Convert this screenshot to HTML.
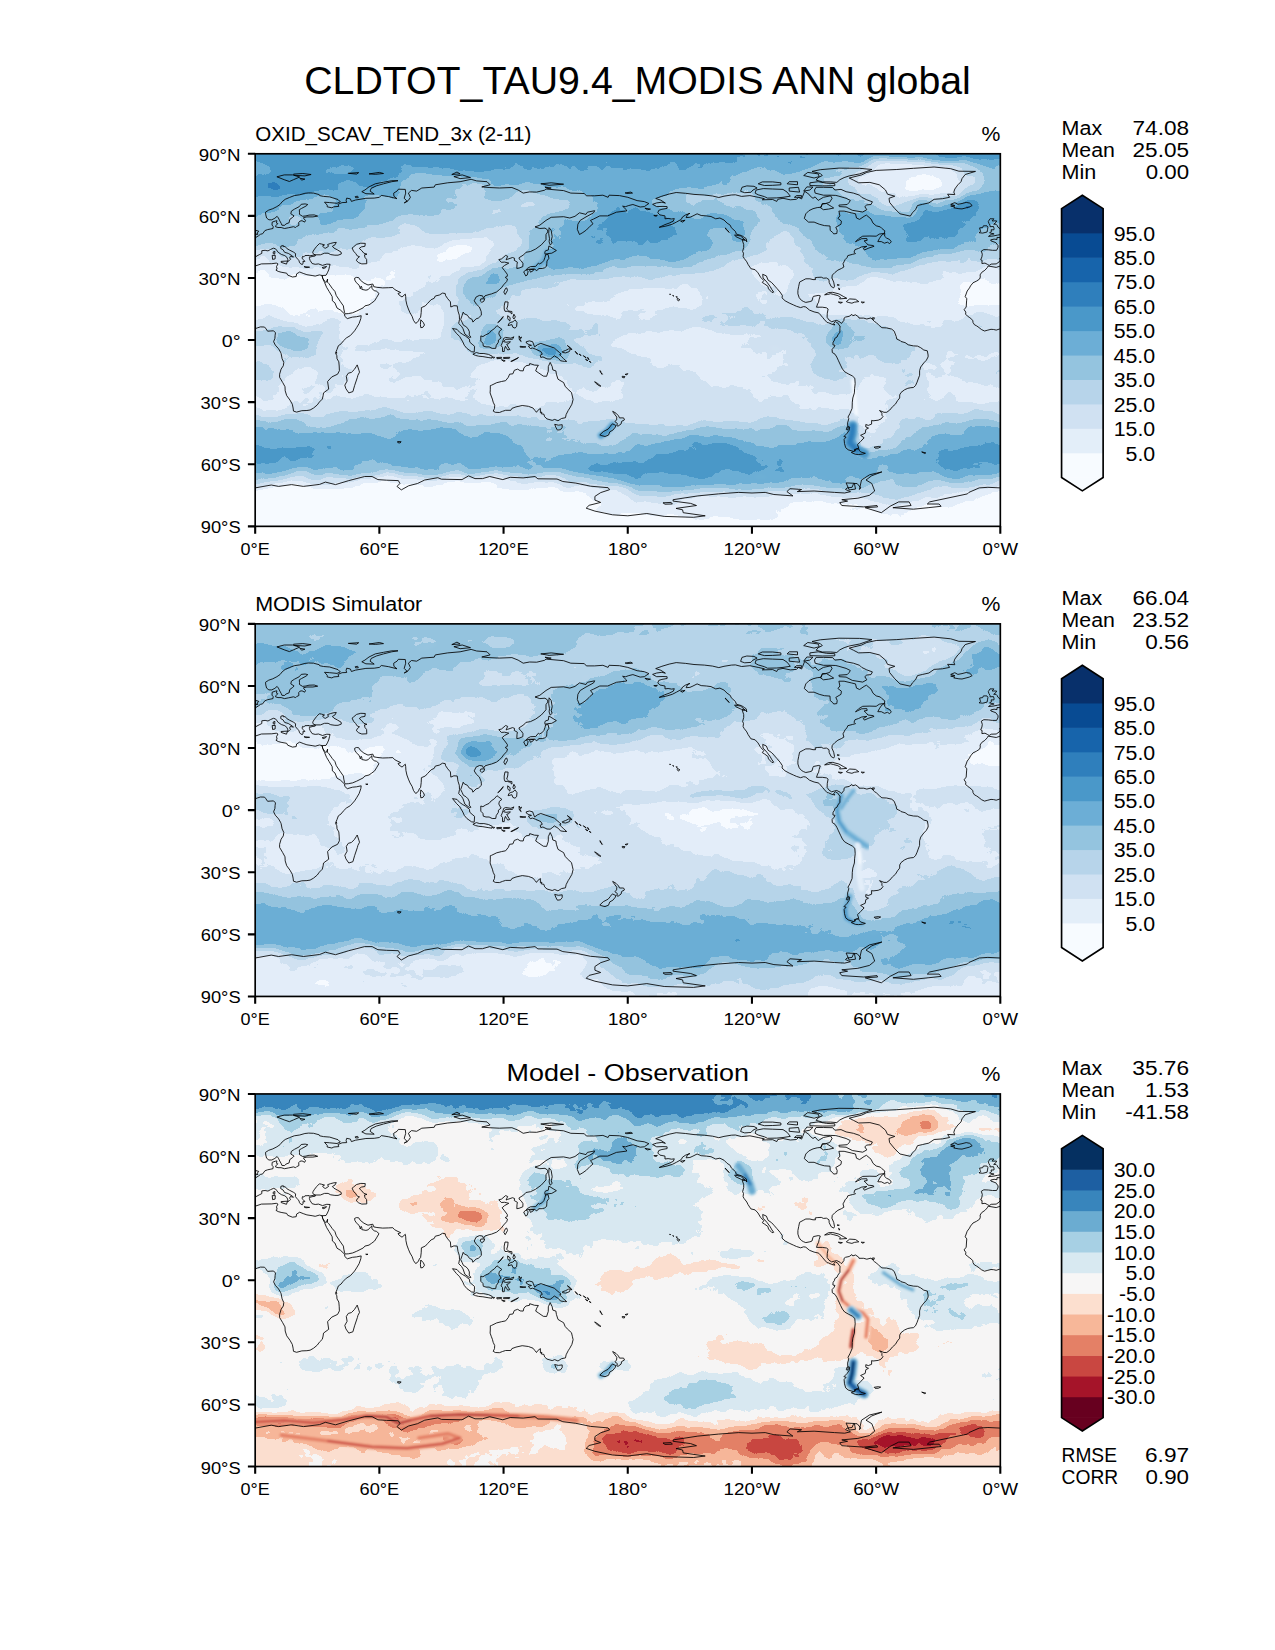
<!DOCTYPE html>
<html><head><meta charset="utf-8"><title>CLDTOT_TAU9.4_MODIS ANN global</title>
<style>html,body{margin:0;padding:0;background:#fff}svg{display:block}text{font-family:"Liberation Sans",sans-serif;fill:#000}</style></head>
<body>
<svg width="1275" height="1650" viewBox="0 0 1275 1650">
<rect width="1275" height="1650" fill="#fff"/>
<defs><path id="coast" d="M-12.2 112.2L-4.1 113.6L0.0 112.2L6.2 110.1L16.6 109.9L21.1 109.3L22.8 110.1L21.3 112.8L21.9 115.3L20.7 116.3L23.0 117.6L25.9 118.4L31.5 119.4L32.5 121.3L37.3 123.2L41.0 122.7L41.4 120.1L44.5 118.2L48.0 119.6L51.7 120.9L56.9 121.7L60.0 122.3L64.2 121.1L66.9 121.7L67.5 124.4L69.3 128.5L71.4 133.5L73.9 137.6L77.0 142.8L77.2 147.0L79.7 149.0L81.8 154.2L85.3 156.3L89.4 160.2L89.6 162.5L92.1 164.8L97.3 163.3L101.4 162.9L106.0 161.9L105.6 164.8L103.9 169.7L101.4 173.9L99.4 177.0L95.2 181.7L91.1 184.2L88.0 187.3L85.9 190.0L83.2 191.9L81.8 195.6L80.3 199.3L81.6 201.8L81.8 204.9L83.6 208.0L84.0 212.2L84.2 216.9L82.4 220.4L76.6 223.1L72.4 227.7L73.5 235.3L68.3 239.1L67.9 242.0L67.1 245.3L64.2 248.2L62.1 251.1L58.4 254.2L54.9 256.2L51.7 256.7L46.6 256.9L41.4 258.3L38.3 257.3L37.9 254.2L37.1 250.4L34.8 246.3L31.5 241.8L30.0 237.0L29.8 232.9L27.5 228.7L24.4 223.5L24.4 220.4L25.9 215.3L28.1 212.0L28.6 208.6L26.9 204.9L25.9 199.7L25.3 198.3L23.4 195.0L20.1 191.3L18.4 187.9L19.7 184.6L19.9 181.5L20.3 179.0L18.4 177.0L14.9 177.2L12.4 177.4L10.3 174.3L9.3 173.2L5.2 173.1L2.1 174.1L-1.0 175.3L-4.1 176.3L-6.6 175.7L-9.3 175.5L-12.4 176.3L-15.7 177.2L-18.6 175.9L-22.4 173.0L-23.8 172.0L-25.9 171.0L-27.3 168.7L-27.5 166.6L-30.4 163.9L-31.3 163.5L-33.1 161.9L-34.8 160.6L-34.6 158.3L-36.2 155.9L-34.2 153.2L-33.7 147.0L-33.5 144.9L-35.2 142.8L-33.1 137.2L-30.8 134.1L-29.8 132.1L-27.3 129.0L-23.8 127.3L-20.7 125.2L-20.1 123.2L-20.3 121.1L-18.6 118.6L-15.5 116.5L-13.0 113.8L-12.2 112.2M732.9 112.2L741.0 113.6L745.1 112.2L751.3 110.1L761.7 109.9L766.3 109.3L767.9 110.1L766.5 112.8L767.1 115.3L765.8 116.3L768.1 117.6L771.0 118.4L776.6 119.4L777.6 121.3L782.4 123.2L786.1 122.7L786.5 120.1L789.6 118.2L793.2 119.6L796.9 120.9L802.1 121.7L805.2 122.3L809.3 121.1L812.0 121.7L812.6 124.4L814.5 128.5L816.5 133.5L819.0 137.6L822.1 142.8L822.3 147.0L824.8 149.0L826.9 154.2L830.4 156.3L834.6 160.2L834.8 162.5L837.2 164.8L842.4 163.3L846.6 162.9L851.1 161.9L850.7 164.8L849.0 169.7L846.6 173.9L844.5 177.0L840.4 181.7L836.2 184.2L833.1 187.3L831.0 190.0L828.3 191.9L826.9 195.6L825.4 199.3L826.7 201.8L826.9 204.9L828.8 208.0L829.2 212.2L829.4 216.9L827.5 220.4L821.7 223.1L817.6 227.7L818.6 235.3L813.4 239.1L813.0 242.0L812.2 245.3L809.3 248.2L807.2 251.1L803.5 254.2L800.0 256.2L796.9 256.7L791.7 256.9L786.5 258.3L783.4 257.3L783.0 254.2L782.2 250.4L779.9 246.3L776.6 241.8L775.2 237.0L774.9 232.9L772.7 228.7L769.6 223.5L769.6 220.4L771.0 215.3L773.3 212.0L773.7 208.6L772.0 204.9L771.0 199.7L770.4 198.3L768.5 195.0L765.2 191.3L763.6 187.9L764.8 184.6L765.0 181.5L765.4 179.0L763.6 177.0L760.0 177.2L757.6 177.4L755.5 174.3L754.5 173.2L750.3 173.1L747.2 174.1L744.1 175.3L741.0 176.3L738.5 175.7L735.8 175.5L732.7 176.3L729.4 177.2L726.5 175.9L722.8 173.0L721.3 172.0L719.3 171.0L717.8 168.7L717.6 166.6L714.7 163.9L713.9 163.5L712.0 161.9L710.4 160.6L710.6 158.3L708.9 155.9L711.0 153.2L711.4 147.0L711.6 144.9L710.0 142.8L712.0 137.2L714.3 134.1L715.3 132.1L717.8 129.0L721.3 127.3L724.4 125.2L725.1 123.2L724.9 121.1L726.5 118.6L729.6 116.5L732.1 113.8L732.9 112.2M102.0 211.1L103.9 216.9L104.3 218.4L102.7 221.5L102.2 223.5L99.4 231.8L97.7 237.8L93.6 239.1L90.7 234.9L89.6 231.4L91.9 227.3L91.1 222.5L93.1 219.4L96.2 218.6L99.1 215.7L101.0 212.8L102.0 211.1M67.5 124.4L66.9 121.7L70.8 121.5L72.2 119.0L73.5 116.1L74.3 112.8L74.9 110.5L71.6 110.3L67.3 111.6L63.3 110.1L60.0 110.5L56.9 109.7L54.9 106.6L54.2 104.5L54.2 103.5L56.9 102.7L60.0 102.2L60.2 101.0L58.4 100.4L57.5 98.9L58.0 97.3L59.4 95.2L61.5 92.5L64.2 89.8L66.2 90.2L69.3 91.1L67.3 92.3L69.1 94.0L70.4 94.4L73.3 92.5L72.4 90.7L75.5 89.6L78.7 88.8L81.1 88.6L79.7 91.1L77.2 92.5L78.7 94.2L82.4 96.2L85.9 98.3L86.1 100.2L82.8 101.4L79.7 101.4L75.5 100.8L72.9 99.4L69.3 99.4L65.2 101.0L60.2 101.0M60.2 101.0L58.0 101.4L53.8 102.2L53.8 101.6L49.7 101.8L48.6 103.1L47.4 102.5L46.8 104.5L48.2 105.8L49.7 107.6L47.6 107.8L48.0 109.1L47.2 110.7L45.5 110.1L44.1 108.3L43.9 107.0L42.8 105.6L41.4 104.1L40.2 102.5L40.4 99.8L38.3 98.3L34.2 96.2L31.5 94.6L30.0 92.7L28.1 92.9L28.1 91.7L25.7 92.3L25.5 94.6L27.9 96.0L29.4 98.5L33.1 99.6L37.3 102.2L38.3 103.3L35.2 102.5L34.4 104.1L35.4 105.6L34.2 106.6L32.5 107.8L32.7 106.0L31.7 103.5L29.6 101.8L26.1 100.6L23.0 98.5L21.3 96.2L20.3 95.0L18.2 94.4L15.5 95.6L12.8 97.1L9.9 96.5L6.6 96.9L6.6 99.6L4.6 100.6L1.0 102.5L-0.6 104.7L0.2 106.2L-1.4 108.3L-4.1 110.1L-9.1 110.3L-11.2 111.6L-13.0 110.5L-15.3 109.3L-18.4 109.7L-18.2 106.6L-19.7 106.0L-18.4 103.1L-18.0 100.4L-19.0 97.3L-16.6 95.8L-12.0 96.0L-7.9 96.5L-3.7 96.5L-2.5 94.0L-2.3 91.9L-4.6 88.8L-9.3 87.1L-9.7 86.1L-6.2 85.3L-3.3 85.7L-3.3 83.6L0.4 83.8L3.3 82.0L5.2 80.5L7.5 79.9L9.7 76.8L12.4 75.8L14.9 75.3L17.8 74.7L18.0 72.7L16.8 71.2L17.0 68.3L20.5 67.1L21.7 66.9L21.3 69.3L22.6 69.8L20.7 71.8L20.3 72.9L22.8 73.7L25.9 73.7L29.4 74.7L33.5 73.9L38.3 72.9L40.4 73.7L41.4 72.7L43.7 71.6L43.5 68.7L44.7 67.3L46.8 66.9L49.5 68.3L50.3 66.6L48.6 64.8L48.4 63.8L51.7 63.1L57.7 63.1L62.5 62.3L59.0 61.1L53.8 61.3L50.7 62.1L47.4 62.5L44.3 60.6L44.3 58.4L44.1 55.9L46.4 54.6L50.9 52.2L52.6 50.7L49.9 50.1L46.0 50.5L44.1 52.8L39.3 55.3L36.2 57.3L35.6 60.0L38.9 62.1L37.5 63.5L34.6 65.6L33.9 68.9L30.6 70.2L29.4 71.6L26.7 71.4L26.1 69.8L24.6 67.1L23.2 64.2L21.9 62.5L19.7 64.4L16.6 66.0L13.7 66.0L11.4 64.2L10.6 61.1L10.3 58.4L13.5 56.3L17.6 54.9L21.7 52.8L24.8 50.7L26.9 48.0L30.0 45.5L34.2 43.7L39.1 41.8L44.5 41.0L49.7 39.5L53.4 39.1L58.4 39.3L64.0 40.8L64.4 41.8L68.3 42.6L74.5 43.1L82.8 45.7L85.1 48.0L81.8 49.5L74.5 48.8L69.3 48.4L72.0 51.3L72.0 53.0L76.6 54.0L78.7 53.0L83.6 52.6L82.8 50.5L86.9 48.8L91.5 48.6L90.9 46.6L91.5 44.3L95.2 45.1L96.2 47.6L100.4 46.2L110.7 44.5L119.0 44.3L124.2 43.5L126.1 41.6L133.5 42.8L141.8 44.9L138.7 42.4L138.5 39.3L141.8 37.3L143.2 35.4L150.1 35.6L150.5 39.3L149.0 44.5L152.1 47.6L149.0 49.1L153.2 46.6L155.2 43.5L153.2 39.3L156.3 36.6L161.4 37.3L166.6 34.2L179.0 33.3L180.1 31.0L192.5 29.0L204.9 27.9L215.9 25.5L221.5 27.1L231.8 27.9L234.9 31.0L226.6 33.1L233.9 33.7L244.2 34.2L256.7 33.7L262.9 36.2L268.0 39.3L274.3 38.1L281.5 38.3L289.4 36.4L290.8 35.2L308.4 36.8L315.6 39.3L329.1 39.7L331.2 42.0L339.5 42.0L347.7 41.4L352.9 43.5L353.9 41.4L364.3 41.8L372.6 43.5L381.9 46.8L389.1 47.8L393.7 49.7L389.1 52.8L385.0 53.2L377.7 50.7L373.6 51.7L370.5 52.8L367.4 52.4L371.1 55.9L371.5 57.1L361.2 58.4L352.5 62.1L344.6 62.1L338.4 65.2L335.3 66.6L337.8 70.0L334.9 72.4L331.2 76.2L327.7 78.7L324.3 80.7L322.1 75.5L322.7 70.4L325.0 66.6L330.8 63.1L338.4 59.0L339.5 56.9L332.2 58.4L330.8 60.6L324.3 59.0L319.8 62.5L314.6 64.2L308.4 62.9L296.0 63.5L290.8 66.6L284.6 71.4L279.8 73.1L284.6 74.7L289.8 74.3L292.5 76.2L292.5 78.2L290.8 80.7L290.8 85.9L286.1 91.1L280.5 95.2L275.3 97.7L270.7 98.5L268.5 101.0L263.9 103.9L263.9 105.1L266.2 107.2L267.8 109.7L267.6 112.8L263.9 114.3L261.6 114.7L261.8 110.7L262.2 108.3L259.1 106.6L259.4 104.5L257.3 103.7L252.5 105.4L250.9 106.0L252.5 102.5L250.4 101.6L246.3 105.1L243.6 105.8L246.1 108.5L249.4 108.3L253.6 109.3L249.4 111.6L246.9 113.8L249.4 116.9L252.1 120.5L252.1 122.5L250.0 123.6L252.3 125.2L251.5 127.7L248.4 131.0L246.3 133.9L244.2 135.8L241.5 138.1L236.4 140.1L233.9 140.7L229.8 142.0L228.3 144.3L227.3 142.0L224.2 141.6L220.9 143.2L219.0 147.0L221.1 150.3L224.2 153.2L226.0 157.7L226.2 161.4L223.1 164.3L220.9 165.0L217.7 168.3L216.9 165.6L214.2 164.3L212.2 161.4L209.1 160.0L208.0 158.3L207.0 161.4L205.5 165.6L207.0 168.7L208.2 171.4L210.7 172.8L212.8 174.9L214.2 178.0L214.0 181.1L215.7 183.4L214.2 183.6L209.7 180.3L207.8 174.9L206.4 172.6L203.5 169.7L204.3 165.6L204.1 161.4L202.8 157.3L202.0 152.1L198.7 151.9L195.6 153.2L195.2 148.0L192.5 144.9L190.4 141.8L190.0 139.7L187.3 139.3L184.2 141.2L180.1 142.2L179.0 144.5L175.9 145.9L172.4 149.6L170.1 152.1L166.2 153.8L166.0 158.8L165.4 163.5L164.1 165.0L163.3 167.0L161.7 168.9L160.4 169.5L158.3 166.6L156.9 162.5L154.8 159.0L153.2 155.2L151.7 151.1L150.7 146.5L150.5 142.8L150.1 140.3L146.8 143.2L143.9 141.2L142.8 139.7L145.5 138.7L141.8 137.0L139.3 135.6L137.6 133.7L133.5 133.9L127.5 134.1L121.7 133.5L118.6 132.9L117.6 130.2L112.8 131.2L108.7 129.2L105.1 126.3L103.5 123.8L101.2 123.6L99.4 124.4L99.6 126.3L101.0 128.7L103.9 131.4L104.7 133.5L105.1 135.0L106.0 132.3L106.8 134.1L106.6 135.6L110.7 136.4L113.0 135.8L115.9 132.5L116.7 131.8L116.7 134.7L119.0 136.8L121.3 137.4L123.8 139.7L121.3 143.9L119.4 147.0L116.5 149.2L113.8 151.1L109.7 152.1L108.0 154.0L101.4 157.3L97.3 159.0L93.1 159.8L90.0 160.0L89.4 158.8L88.6 155.2L88.2 152.1L85.3 148.0L81.1 141.8L79.7 137.6L77.0 134.5L73.7 129.8L72.2 128.3L72.4 125.2L71.2 128.3L70.8 128.7L69.3 127.3L67.5 124.4M805.4 101.0L803.1 101.4L799.0 102.2L799.0 101.6L794.8 101.8L793.8 103.1L792.5 102.5L791.9 104.5L793.4 105.8L794.8 107.6L792.7 107.8L793.2 109.1L792.3 110.7L790.7 110.1L789.2 108.3L789.0 107.0L788.0 105.6L786.5 104.1L785.3 102.5L785.5 99.8L783.4 98.3L779.3 96.2L776.6 94.6L775.2 92.7L773.3 92.9L773.3 91.7L770.8 92.3L770.6 94.6L773.1 96.0L774.5 98.5L778.3 99.6L782.4 102.2L783.4 103.3L780.3 102.5L779.5 104.1L780.5 105.6L779.3 106.6L777.6 107.8L777.8 106.0L776.8 103.5L774.7 101.8L771.2 100.6L768.1 98.5L766.5 96.2L765.4 95.0L763.4 94.4L760.7 95.6L758.0 97.1L755.1 96.5L751.8 96.9L751.8 99.6L749.7 100.6L746.2 102.5L744.5 104.7L745.3 106.2L743.7 108.3L741.0 110.1L736.0 110.3L734.0 111.6L732.1 110.5L729.8 109.3L726.7 109.7L726.9 106.6L725.5 106.0L726.7 103.1L727.1 100.4L726.1 97.3L728.6 95.8L733.1 96.0L737.3 96.5L741.4 96.5L742.7 94.0L742.9 91.9L740.6 88.8L735.8 87.1L735.4 86.1L738.9 85.3L741.8 85.7L741.8 83.6L745.6 83.8L748.5 82.0L750.3 80.5L752.6 79.9L754.9 76.8L757.6 75.8L760.0 75.3L762.9 74.7L763.1 72.7L761.9 71.2L762.1 68.3L765.6 67.1L766.9 66.9L766.5 69.3L767.7 69.8L765.8 71.8L765.4 72.9L767.9 73.7L771.0 73.7L774.5 74.7L778.7 73.9L783.4 72.9L785.5 73.7L786.5 72.7L788.8 71.6L788.6 68.7L789.8 67.3L791.9 66.9L794.6 68.3L795.4 66.6L793.8 64.8L793.6 63.8L796.9 63.1L802.9 63.1L807.6 62.3L804.1 61.1L799.0 61.3L795.9 62.1L792.5 62.5L789.4 60.6L789.4 58.4L789.2 55.9L791.5 54.6L796.1 52.2L797.7 50.7L795.0 50.1L791.1 50.5L789.2 52.8L784.5 55.3L781.4 57.3L780.7 60.0L784.1 62.1L782.6 63.5L779.7 65.6L779.1 68.9L775.8 70.2L774.5 71.6L771.8 71.4L771.2 69.8L769.8 67.1L768.3 64.2L767.1 62.5L764.8 64.4L761.7 66.0L758.8 66.0L756.5 64.2L755.7 61.1L755.5 58.4L758.6 56.3L762.7 54.9L766.9 52.8L770.0 50.7L772.0 48.0L775.2 45.5L779.3 43.7L784.3 41.8L789.6 41.0L794.8 39.5L798.5 39.1L803.5 39.3L809.1 40.8L809.5 41.8L813.4 42.6L819.7 43.1L827.9 45.7L830.2 48.0L826.9 49.5L819.7 48.8L814.5 48.4L817.2 51.3L817.2 53.0L821.7 54.0L823.8 53.0L828.8 52.6L827.9 50.5L832.1 48.8L836.6 48.6L836.0 46.6L836.6 44.3L840.4 45.1L841.4 47.6L845.5 46.2L855.9 44.5L864.2 44.3L869.3 43.5L871.2 41.6L878.6 42.8L886.9 44.9L883.8 42.4L883.6 39.3L886.9 37.3L888.4 35.4L895.2 35.6L895.6 39.3L894.2 44.5L897.3 47.6L894.2 49.1L898.3 46.6L900.4 43.5L898.3 39.3L901.4 36.6L906.6 37.3L911.8 34.2L924.2 33.3L925.2 31.0L937.6 29.0L950.1 27.9L961.0 25.5L966.6 27.1L977.0 27.9L980.1 31.0L971.8 33.1L979.0 33.7L989.4 34.2L1001.8 33.7L1008.0 36.2L1013.2 39.3L1019.4 38.1L1026.6 38.3L1034.5 36.4L1036.0 35.2L1053.5 36.8L1060.8 39.3L1074.2 39.7L1076.3 42.0L1084.6 42.0L1092.9 41.4L1098.0 43.5L1099.1 41.4L1109.4 41.8L1117.7 43.5L1127.0 46.8L1134.3 47.8L1138.8 49.7L1134.3 52.8L1130.1 53.2L1122.9 50.7L1118.7 51.7L1115.6 52.8L1112.5 52.4L1116.3 55.9L1116.7 57.1L1106.3 58.4L1097.6 62.1L1089.8 62.1L1083.6 65.2L1080.5 66.6L1082.9 70.0L1080.0 72.4L1076.3 76.2L1072.8 78.7L1069.5 80.7L1067.2 75.5L1067.8 70.4L1070.1 66.6L1075.9 63.1L1083.6 59.0L1084.6 56.9L1077.3 58.4L1075.9 60.6L1069.5 59.0L1064.9 62.5L1059.8 64.2L1053.5 62.9L1041.1 63.5L1036.0 66.6L1029.7 71.4L1025.0 73.1L1029.7 74.7L1034.9 74.3L1037.6 76.2L1037.6 78.2L1036.0 80.7L1036.0 85.9L1031.2 91.1L1025.6 95.2L1020.4 97.7L1015.9 98.5L1013.6 101.0L1009.0 103.9L1009.0 105.1L1011.3 107.2L1013.0 109.7L1012.8 112.8L1009.0 114.3L1006.8 114.7L1007.0 110.7L1007.4 108.3L1004.3 106.6L1004.5 104.5L1002.4 103.7L997.7 105.4L996.0 106.0L997.7 102.5L995.6 101.6L991.5 105.1L988.8 105.8L991.2 108.5L994.6 108.3L998.7 109.3L994.6 111.6L992.1 113.8L994.6 116.9L997.2 120.5L997.2 122.5L995.2 123.6L997.5 125.2L996.6 127.7L993.5 131.0L991.5 133.9L989.4 135.8L986.7 138.1L981.5 140.1L979.0 140.7L974.9 142.0L973.4 144.3L972.4 142.0L969.3 141.6L966.0 143.2L964.1 147.0L966.2 150.3L969.3 153.2L971.2 157.7L971.4 161.4L968.3 164.3L966.0 165.0L962.9 168.3L962.1 165.6L959.4 164.3L957.3 161.4L954.2 160.0L953.2 158.3L952.1 161.4L950.7 165.6L952.1 168.7L953.4 171.4L955.8 172.8L957.9 174.9L959.4 178.0L959.2 181.1L960.8 183.4L959.4 183.6L954.8 180.3L953.0 174.9L951.5 172.6L948.6 169.7L949.4 165.6L949.2 161.4L948.0 157.3L947.2 152.1L943.8 151.9L940.7 153.2L940.3 148.0L937.6 144.9L935.6 141.8L935.2 139.7L932.5 139.3L929.4 141.2L925.2 142.2L924.2 144.5L921.1 145.9L917.6 149.6L915.3 152.1L911.3 153.8L911.1 158.8L910.5 163.5L909.3 165.0L908.4 167.0L906.8 168.9L905.6 169.5L903.5 166.6L902.0 162.5L900.0 159.0L898.3 155.2L896.9 151.1L895.8 146.5L895.6 142.8L895.2 140.3L891.9 143.2L889.0 141.2L888.0 139.7L890.6 138.7L886.9 137.0L884.4 135.6L882.8 133.7L878.6 133.9L872.6 134.1L866.8 133.5L863.7 132.9L862.7 130.2L857.9 131.2L853.8 129.2L850.3 126.3L848.6 123.8L846.4 123.6L844.5 124.4L844.7 126.3L846.1 128.7L849.0 131.4L849.9 133.5L850.3 135.0L851.1 132.3L851.9 134.1L851.7 135.6L855.9 136.4L858.2 135.8L861.1 132.5L861.9 131.8L861.9 134.7L864.2 136.8L866.4 137.4L868.9 139.7L866.4 143.9L864.6 147.0L861.7 149.2L859.0 151.1L854.8 152.1L853.2 154.0L846.6 157.3L842.4 159.0L838.3 159.8L835.2 160.0L834.6 158.8L833.7 155.2L833.3 152.1L830.4 148.0L826.3 141.8L824.8 137.6L822.1 134.5L818.8 129.8L817.4 128.3L817.6 125.2L816.3 128.3L815.9 128.7L814.5 127.3L812.6 124.4M-11.8 82.6L-7.2 82.2L-2.7 81.3L2.9 80.3L1.7 79.7L3.5 77.4L0.6 76.6L0.0 75.3L-2.5 73.3L-3.3 71.4L-4.3 70.4L-6.6 70.4L-4.1 68.3L-3.7 67.1L-8.3 67.1L-6.4 65.0L-10.3 65.0L-12.0 67.7L-11.4 69.8L-10.3 71.4L-10.3 72.9L-6.8 72.7L-6.2 74.9L-6.4 76.0L-9.3 76.0L-8.7 77.6L-10.8 78.9L-7.2 79.9L-6.2 80.1L-8.9 80.5L-11.8 82.6M733.3 82.6L737.9 82.2L742.4 81.3L748.0 80.3L746.8 79.7L748.7 77.4L745.8 76.6L745.1 75.3L742.7 73.3L741.8 71.4L740.8 70.4L738.5 70.4L741.0 68.3L741.4 67.1L736.9 67.1L738.7 65.0L734.8 65.0L733.1 67.7L733.8 69.8L734.8 71.4L734.8 72.9L738.3 72.7L738.9 74.9L738.7 76.0L735.8 76.0L736.4 77.6L734.4 78.9L737.9 79.9L738.9 80.1L736.2 80.5L733.3 82.6M732.3 76.0L732.7 73.5L731.7 72.0L728.2 72.0L727.5 73.7L724.4 74.1L724.9 76.2L725.5 77.6L723.8 78.9L727.5 79.3L731.9 78.2L732.3 76.0M698.6 54.0L703.7 54.9L706.8 55.1L714.1 53.2L717.0 51.7L714.5 49.3L711.0 48.6L706.8 49.7L702.7 50.5L699.6 48.8L695.5 50.5L699.6 51.7L695.5 52.2L699.6 53.2L698.6 54.0M25.9 107.6L32.3 107.2L31.3 110.3L25.9 108.5L25.9 107.6M17.0 101.6L20.1 101.6L19.9 105.1L17.4 105.6L17.0 101.6M18.0 98.1L19.7 97.5L19.5 100.4L18.0 99.8L18.0 98.1M48.8 112.8L54.4 113.4L50.7 113.8L48.8 112.8M66.9 113.8L71.4 112.6L70.2 114.0L67.9 114.7L66.9 113.8M103.5 108.9L106.6 110.1L111.6 109.9L111.4 105.6L109.7 103.5L109.3 101.0L111.8 100.4L108.7 99.4L106.6 96.9L104.1 94.6L106.2 93.1L109.7 92.5L110.1 89.6L105.6 89.4L101.4 90.5L98.3 93.1L96.9 94.2L98.3 97.3L100.4 99.6L102.2 102.2L104.3 102.9L102.0 104.9L101.2 106.8L103.5 108.9M292.9 100.6L293.7 104.5L291.8 107.2L291.6 109.9L291.4 112.4L289.4 114.0L287.1 114.7L283.6 114.7L283.4 115.3L281.1 116.9L279.8 115.3L275.3 115.3L271.1 115.9L272.2 114.5L275.3 112.8L280.5 112.6L283.2 109.3L284.2 110.1L286.7 108.9L288.7 106.6L289.8 103.5L290.4 101.0L292.9 100.6M289.8 100.4L292.3 99.8L296.6 99.4L301.2 96.7L298.7 95.2L293.7 92.1L293.1 96.2L290.4 96.9L289.6 98.3L289.8 100.4M270.9 116.1L273.0 117.6L272.0 121.3L270.5 122.1L269.5 120.1L268.5 118.0L270.9 116.1M274.3 115.9L278.6 115.5L278.0 116.9L275.3 118.4L274.3 115.9M293.9 73.9L296.0 76.6L297.0 82.8L296.0 86.9L297.0 89.4L295.0 91.1L293.9 88.0L294.3 84.9L293.5 79.7L293.9 73.9M251.5 134.1L252.3 136.6L250.0 140.7L248.6 138.3L250.4 134.5L251.5 134.1M225.6 145.1L229.5 144.9L228.7 147.4L226.6 148.6L225.0 147.0L225.6 145.1M165.6 166.0L168.1 168.7L169.3 171.2L167.7 173.5L165.6 173.9L165.2 170.8L165.6 166.0M249.8 148.0L252.9 148.2L252.5 152.1L251.5 155.2L253.6 157.3L256.7 157.7L256.7 160.2L254.6 158.3L252.1 157.5L249.8 157.5L249.0 155.2L249.0 152.1L249.8 148.0M259.8 166.0L261.8 168.7L261.4 172.8L259.8 174.3L257.7 173.5L256.7 170.8L252.9 171.8L253.6 169.7L255.6 168.5L257.7 168.1L259.8 166.0M248.0 162.7L245.3 166.0L242.6 168.9L244.9 167.0L247.6 163.7L248.0 162.7M258.7 160.4L260.2 163.1L258.7 165.2L257.7 163.5L258.7 160.4M252.5 161.9L255.0 163.9L254.6 167.2L253.3 166.0L252.5 164.6L252.5 161.9M225.6 182.1L227.7 182.8L230.4 181.1L233.9 179.5L236.0 177.0L239.1 174.9L241.8 171.8L243.6 173.2L246.7 175.5L244.2 177.4L243.6 180.1L245.9 184.2L243.2 186.3L243.2 188.4L241.1 191.5L240.5 194.6L237.0 194.6L233.9 193.1L230.8 193.1L228.1 192.3L227.7 189.4L225.6 187.3L225.6 184.2L225.6 182.1M197.3 174.7L201.8 175.5L204.3 178.4L207.6 180.7L210.1 182.1L214.2 185.3L214.6 188.4L216.9 190.4L219.4 192.5L219.0 198.3L216.3 197.9L211.7 194.6L209.1 191.5L207.6 188.1L204.5 182.8L201.2 179.5L197.3 174.7M217.7 200.4L221.1 198.7L224.6 199.7L228.7 199.7L233.3 200.6L237.0 202.4L236.8 204.3L232.9 203.7L227.7 202.8L223.5 202.4L220.2 201.6L217.7 200.4M241.5 203.7L246.3 203.5L246.3 204.5L241.8 204.9L241.5 203.7M248.2 203.7L254.6 203.5L254.2 204.5L248.4 204.7L248.2 203.7M255.6 207.6L263.3 203.7L261.8 204.9L256.7 207.6L255.6 207.6M246.3 205.9L250.0 207.0L248.4 207.6L246.3 205.9M237.2 203.3L239.5 203.5L238.4 204.5L237.2 203.3M248.4 184.6L250.4 183.6L255.6 184.4L258.7 183.0L257.3 185.5L254.6 185.5L250.4 185.5L248.4 187.9L250.9 188.4L255.2 187.9L253.6 189.8L251.5 190.4L252.9 193.1L254.6 195.6L252.5 196.2L251.5 194.6L250.2 192.5L249.2 195.6L249.0 197.7L247.3 197.7L247.3 193.5L245.9 191.9L247.1 189.0L248.0 186.3L248.4 184.6M263.9 182.1L264.9 184.2L266.4 183.2L264.9 185.7L266.0 187.7L264.3 186.3L263.9 184.2L263.9 182.1M264.9 192.5L270.7 193.1L268.0 193.5L264.9 193.3L264.9 192.5M271.1 187.9L274.3 187.1L277.4 187.9L279.4 193.1L282.5 190.8L285.6 189.6L291.8 191.7L299.1 194.2L301.8 196.6L304.3 198.7L305.9 200.2L304.3 200.8L306.3 202.8L308.4 204.9L311.5 207.6L309.4 207.6L305.3 207.0L303.2 204.5L299.1 202.0L297.0 203.9L295.0 205.3L291.8 205.1L287.7 203.1L285.6 203.7L285.0 201.4L287.1 200.4L285.6 197.7L280.5 195.4L277.4 194.2L275.1 194.8L273.2 192.3L276.3 191.5L273.8 190.8L271.1 189.2L271.1 187.9M307.0 197.9L310.5 196.6L313.6 195.0L315.2 195.2L314.2 197.7L310.5 199.1L307.4 198.7L307.0 197.9M312.1 191.7L315.6 194.2L316.7 196.0L315.2 194.6L312.1 191.7M320.0 197.5L322.7 200.4L321.4 199.9L320.0 197.5M323.9 200.2L326.0 201.6L325.0 201.4L323.9 200.2M330.3 205.5L332.8 206.8L331.8 206.6L330.3 205.5M332.4 203.5L333.9 205.9L333.0 205.3L332.4 203.5M328.1 201.8L331.0 203.9L329.7 203.5L328.1 201.8M333.9 207.4L335.9 208.6L334.9 208.2L333.9 207.4M344.8 216.7L346.1 218.6L345.2 218.6L344.8 216.7M346.1 219.2L347.3 220.4L346.5 220.4L346.1 219.2M339.5 227.9L342.6 229.8L345.7 232.4L343.6 231.8L340.5 229.3L339.5 227.9M367.0 222.5L369.7 222.7L369.1 224.0L367.2 223.7L367.0 222.5M369.9 220.6L372.6 219.8L371.7 221.1L369.9 220.6M235.1 231.8L236.4 231.4L241.5 228.9L246.3 227.7L250.4 226.9L253.1 223.5L254.4 220.4L257.7 220.0L259.1 216.5L262.5 215.3L264.9 216.9L268.0 217.1L268.7 214.2L270.7 212.0L274.3 211.3L274.5 209.7L279.4 211.3L283.2 211.5L281.5 214.2L280.5 217.1L283.6 219.2L288.1 222.3L291.4 222.5L293.1 217.3L293.1 212.8L295.0 208.6L297.0 212.8L297.6 216.1L300.7 217.1L301.2 220.4L302.8 225.4L305.9 227.3L308.4 228.7L309.9 232.4L312.1 234.9L316.3 238.7L317.1 242.2L317.9 245.7L316.7 250.4L314.6 254.2L313.0 256.7L310.9 260.8L310.3 263.9L306.3 264.7L302.8 267.0L299.5 265.6L297.0 266.6L291.8 265.1L289.4 262.9L288.7 260.4L286.1 260.0L286.7 258.3L285.2 258.9L285.2 254.6L282.5 256.7L281.3 258.5L279.8 256.7L277.8 254.2L273.2 252.5L267.0 251.7L260.8 253.1L256.7 254.6L255.6 256.5L250.4 256.5L247.3 257.5L244.2 258.7L240.1 258.5L238.0 257.3L239.3 254.6L239.5 251.5L238.0 248.4L237.2 245.3L236.0 242.2L234.9 239.1L235.1 236.0L235.1 231.8M299.5 270.5L303.2 271.4L307.0 270.9L307.0 273.6L305.3 275.9L302.2 276.3L300.7 273.6L299.5 270.5M357.5 257.5L360.8 259.4L363.3 262.0L364.3 264.1L368.4 264.1L369.3 266.0L366.4 267.6L365.9 270.1L362.8 272.4L361.6 271.8L362.2 269.7L359.7 267.8L361.4 266.0L361.6 263.3L358.1 258.7L357.5 257.5M357.5 270.1L360.6 271.6L360.2 273.2L357.7 276.3L354.6 278.0L353.3 281.3L349.8 282.7L346.7 281.9L344.6 281.1L348.1 277.8L352.9 275.3L355.0 272.8L356.4 270.7L357.5 270.1M422.2 144.5L424.7 145.9L423.1 147.2L422.0 145.5L422.2 144.5M420.8 142.8L422.2 143.2L421.4 143.6L420.8 142.8M417.5 141.6L418.7 142.2L417.9 142.2L417.5 141.6M414.4 140.3L415.4 140.5L414.8 141.0L414.4 140.3M397.4 50.5L401.5 49.1L406.7 48.4L410.2 49.3L405.7 46.4L400.5 44.7L406.7 42.4L414.0 40.2L421.0 38.7L430.5 39.5L438.8 40.6L449.2 41.2L457.4 42.2L463.6 43.7L468.8 42.4L476.1 41.2L480.2 41.0L486.4 42.6L494.7 41.8L503.0 43.5L509.2 44.9L507.1 46.0L517.5 45.7L521.6 47.6L522.6 45.5L527.8 44.5L535.1 46.0L541.3 45.5L543.3 43.5L546.4 45.1L547.5 42.4L549.5 37.5L553.7 40.4L555.1 42.4L557.8 44.5L559.9 43.1L563.0 46.6L568.2 43.5L575.4 42.0L576.9 44.5L574.4 48.6L570.2 49.7L567.1 49.7L566.1 53.4L562.0 53.8L557.8 54.9L553.7 56.9L550.6 60.0L549.1 64.6L553.3 68.3L558.9 68.3L564.0 70.4L569.2 71.8L574.8 72.2L575.0 76.6L577.5 78.7L578.5 80.1L581.6 79.7L582.0 76.6L580.6 73.5L585.8 70.4L586.2 67.3L582.7 64.6L584.7 62.1L583.7 57.3L588.9 57.3L596.1 59.0L600.3 60.0L601.3 64.2L604.4 65.6L608.9 62.5L611.2 61.3L615.8 65.2L617.8 69.3L621.0 72.0L625.1 73.1L626.5 74.5L629.6 77.0L629.2 79.5L624.1 80.3L621.0 82.4L614.7 82.2L607.5 82.4L603.4 84.9L600.3 88.0L602.3 86.9L606.5 84.9L611.6 84.7L612.0 86.5L608.9 87.1L611.0 89.0L612.7 91.1L617.8 91.7L618.9 92.5L613.7 94.2L609.2 96.2L608.1 94.6L611.6 92.5L606.5 93.1L603.4 94.6L599.8 95.8L598.8 98.3L600.3 99.8L597.1 100.6L592.6 101.8L591.8 103.9L589.9 105.8L588.9 108.0L587.8 109.9L588.7 113.2L586.2 114.7L582.7 116.3L579.6 118.8L577.1 121.3L576.7 124.2L578.5 128.3L579.3 132.5L578.5 134.1L576.0 132.7L574.0 128.7L573.8 125.8L571.3 124.2L568.2 124.4L566.1 123.4L562.0 123.6L559.9 124.0L560.3 125.8L557.8 125.8L554.7 125.0L550.6 125.0L548.1 126.3L544.4 128.3L543.5 132.5L542.7 136.6L542.7 140.1L544.0 143.9L546.2 146.5L548.5 147.8L550.6 148.6L554.7 147.8L556.8 147.0L557.6 143.9L558.2 142.6L563.0 141.6L565.1 142.0L564.0 145.3L563.4 148.4L562.4 150.1L561.3 153.4L567.1 153.4L571.3 154.0L572.9 155.2L572.1 159.4L571.9 163.5L573.8 166.2L576.4 167.9L579.6 167.0L581.6 166.6L584.9 168.3L586.2 169.7L588.7 166.6L588.9 164.3L590.3 163.3L594.0 162.5L596.7 160.6L597.6 161.9L600.3 161.0L603.4 163.1L603.8 164.3L608.5 164.3L611.6 165.2L615.8 164.1L617.2 165.6L619.3 167.7L621.4 169.1L624.1 171.8L626.7 173.9L631.3 174.1L636.5 175.3L639.0 177.4L641.0 182.6L641.6 185.3L645.2 186.9L645.8 187.7L649.9 188.8L653.0 191.0L658.2 192.1L662.3 192.3L665.5 193.9L668.6 196.2L672.1 197.0L672.9 201.2L672.9 203.1L671.2 206.4L668.6 209.1L665.5 213.2L664.4 216.9L664.4 221.5L663.0 225.2L661.9 228.3L660.3 231.8L658.2 233.7L655.7 233.9L652.6 234.5L649.3 236.0L645.8 238.7L644.5 241.1L644.5 244.2L642.3 246.9L640.2 250.4L637.3 252.9L634.6 256.2L631.5 258.5L628.8 258.5L624.3 256.7L626.7 259.4L626.7 261.4L627.8 262.7L625.9 265.1L623.0 266.4L617.8 267.0L616.4 266.6L616.4 270.3L613.1 271.6L610.6 270.7L610.6 273.2L613.3 274.3L610.6 275.7L610.0 279.4L605.4 281.5L608.9 284.0L605.4 287.7L602.3 290.8L603.6 294.5L601.3 295.0L598.2 297.6L593.0 296.0L590.5 293.9L589.3 289.8L588.9 285.6L590.9 283.2L588.7 282.7L592.0 279.4L594.0 276.3L594.5 273.2L592.6 272.6L592.4 269.1L593.6 264.9L592.8 263.3L594.7 259.8L596.9 254.6L597.1 248.4L597.6 244.2L599.2 239.1L599.4 234.9L600.0 229.8L599.6 224.4L597.1 222.1L593.0 220.0L589.5 218.0L587.2 215.1L585.3 211.3L583.3 207.0L581.6 203.3L579.8 200.4L577.1 198.7L576.9 195.6L578.9 193.3L579.8 191.5L577.7 191.0L577.9 188.4L579.3 186.3L579.6 184.6L581.8 183.2L582.7 181.1L584.7 178.4L584.7 174.9L584.9 172.2L583.9 171.4L582.7 169.3L580.2 167.9L578.5 169.5L579.6 171.2L576.4 170.3L573.3 168.9L571.9 168.7L569.4 166.0L567.5 163.7L564.0 159.6L563.0 159.0L558.9 158.1L554.3 156.3L550.6 153.2L548.5 152.8L545.4 153.8L541.3 152.5L538.2 151.1L534.0 149.2L529.9 147.0L526.8 144.1L527.2 141.8L524.9 138.3L521.6 134.5L518.7 131.2L516.4 128.7L512.9 126.3L511.2 122.1L507.5 120.5L507.9 124.2L511.7 128.3L514.8 132.5L516.8 136.0L518.5 138.3L516.8 138.7L513.3 135.0L512.7 132.5L509.2 130.0L507.1 128.7L508.6 126.7L505.5 123.6L502.8 119.0L499.9 115.9L495.7 114.9L492.8 110.5L491.6 108.0L488.9 104.5L487.9 102.7L488.3 99.4L487.4 97.7L488.5 93.6L488.5 90.7L487.0 86.1L490.6 86.5L491.6 88.0L491.0 84.9L489.5 83.8L486.4 81.8L481.2 80.3L480.2 77.6L476.1 73.9L475.0 71.4L471.9 69.3L468.8 66.2L464.7 64.2L460.5 65.0L455.8 62.7L451.2 62.1L446.0 61.7L441.9 60.0L437.8 62.1L434.7 63.5L430.9 63.8L432.6 60.4L434.7 59.6L430.5 61.1L427.4 63.1L426.0 65.6L421.2 68.3L417.1 70.4L411.9 72.0L407.8 72.9L404.0 73.5L409.8 70.8L414.0 69.3L418.1 67.3L419.1 64.8L416.5 65.2L412.9 64.6L409.8 65.0L409.8 62.1L404.7 61.1L402.6 59.0L403.6 56.5L406.7 55.5L411.9 54.6L411.9 52.8L407.8 52.6L401.5 52.8L397.4 50.5M611.6 55.9L607.5 58.2L597.1 56.5L590.9 53.2L584.1 52.8L583.7 51.3L592.0 50.7L594.0 48.6L595.1 46.6L590.9 44.5L583.7 42.4L580.6 41.6L575.4 41.4L568.2 41.4L559.9 39.3L559.3 36.2L560.9 33.5L568.2 33.5L577.5 33.7L579.6 36.2L585.8 35.6L590.9 37.9L598.2 39.3L604.4 41.4L606.5 43.5L611.6 46.0L617.2 48.0L615.8 50.7L611.6 51.1L609.6 52.8L611.6 55.9M527.8 43.5L535.1 42.4L531.9 38.3L527.8 35.6L517.5 35.2L508.1 34.8L500.9 36.2L499.9 39.3L503.0 41.0L509.2 42.8L512.3 44.3L521.6 44.1L527.8 43.5M485.4 37.5L489.5 38.9L495.7 38.5L497.8 36.2L501.9 34.2L498.8 32.5L491.6 32.1L486.8 33.5L485.4 37.5M581.6 28.6L584.7 25.9L588.9 23.8L594.0 22.1L604.4 20.1L611.6 17.6L616.8 15.7L604.4 14.5L583.7 14.3L565.1 15.9L556.8 17.6L565.1 19.7L567.1 21.7L563.0 23.8L560.9 26.3L567.1 28.1L575.4 28.1L581.6 28.6M579.6 29.8L579.6 31.9L567.1 32.1L554.7 31.7L554.7 29.0L563.0 27.9L571.3 29.4L579.6 29.8M558.9 24.2L548.5 21.7L552.6 18.6L563.0 20.1L564.0 22.8L558.9 24.2M525.7 31.0L517.5 31.5L509.2 31.7L503.0 30.0L507.1 28.1L517.5 28.1L525.7 29.0L525.7 31.0M548.5 37.3L551.6 33.1L557.8 33.3L554.7 36.2L548.5 37.3M544.4 38.3L534.0 37.3L534.0 34.2L543.3 33.5L544.4 38.3M542.3 31.0L531.9 30.0L534.0 27.9L542.3 27.9L542.3 31.0M539.2 43.5L546.4 43.5L546.4 41.8L541.3 41.8L539.2 43.5M565.1 53.8L567.1 50.3L571.3 49.7L576.4 52.8L578.5 54.2L573.3 55.3L568.2 55.9L565.1 53.8M622.6 87.8L624.1 84.9L626.5 81.3L629.6 79.5L629.4 82.4L631.3 84.2L634.4 85.7L636.1 88.0L634.4 89.8L632.3 88.4L629.2 89.4L626.1 87.8L622.6 87.8M479.4 81.1L485.4 82.2L489.9 86.1L486.4 85.5L480.6 82.8L479.4 81.1M469.9 74.1L472.5 76.6L474.0 78.7L470.9 75.5L469.9 74.1M425.4 67.3L429.9 66.4L427.4 68.3L425.4 67.3M389.7 54.4L395.3 55.3L392.2 55.9L389.7 54.4M398.6 61.7L402.2 61.5L400.9 62.5L398.6 61.7M569.4 141.0L573.3 138.7L577.5 138.5L583.7 140.1L588.5 142.8L591.6 144.5L584.3 145.1L585.3 143.6L582.7 141.8L578.5 140.7L575.4 139.9L572.3 140.7L569.4 141.0M591.1 147.8L594.5 145.1L600.3 145.5L603.6 147.8L599.2 148.4L596.7 149.4L593.0 148.6L591.1 147.8M583.1 148.2L587.2 148.6L585.3 149.4L583.1 148.2M606.0 148.2L609.2 148.4L607.5 149.2L606.0 148.2M583.3 134.3L584.1 136.2L584.5 135.0L583.3 134.3M581.8 131.0L584.1 131.2L582.9 131.4L581.8 131.0M617.0 164.1L619.1 163.9L618.9 165.4L617.0 165.4L617.0 164.1M655.1 62.3L644.8 60.0L639.6 54.9L634.4 48.6L633.8 44.5L639.6 42.4L632.3 40.4L630.3 36.2L624.1 31.0L614.7 28.6L603.4 29.0L598.2 26.3L594.0 24.2L606.5 21.1L611.6 18.6L621.0 16.6L641.6 15.7L658.2 14.5L678.9 13.2L695.5 14.9L703.7 17.4L720.3 17.6L710.0 20.7L706.8 24.8L705.8 27.9L702.7 31.0L699.6 35.2L698.6 38.3L699.6 40.8L692.4 40.4L694.4 43.5L687.2 44.9L678.9 45.5L673.7 49.1L667.5 50.5L662.3 51.7L660.3 55.9L657.2 59.0L655.1 62.3M21.7 23.0L29.0 21.1L37.3 21.1L44.5 23.2L38.3 25.9L34.2 27.7L29.0 25.9L23.8 23.8L21.7 23.0M38.3 20.3L47.6 19.7L55.9 20.7L49.7 22.1L39.3 21.5L38.3 20.3M44.5 24.4L49.7 25.3L46.6 26.3L44.5 24.4M106.6 37.9L110.7 39.9L119.0 40.2L114.9 37.3L115.9 34.6L121.1 32.1L128.3 30.0L136.6 27.9L142.8 26.9L136.6 26.9L128.3 28.4L120.1 30.0L113.8 33.1L109.7 36.2L106.6 37.9M93.1 19.5L103.5 18.8L101.4 20.3L93.1 19.5M113.8 20.1L124.2 18.6L128.3 19.7L120.1 20.5L113.8 20.1M198.7 22.8L207.0 21.1L215.3 23.8L204.9 24.8L198.7 22.8M196.6 20.7L201.8 18.2L204.9 20.1L196.6 20.7M285.6 30.0L296.0 29.0L308.4 30.4L293.9 31.5L285.6 30.0M289.8 33.3L296.0 34.2L292.9 34.8L289.8 33.3M369.9 39.1L375.7 38.3L377.3 39.3L371.5 39.7L369.9 39.1M100.0 42.8L102.5 42.4L103.1 43.9L100.4 43.9L100.0 42.8M603.6 295.2L604.0 296.4L605.4 298.1L610.2 299.5L607.5 300.3L603.4 300.7L600.3 300.5L596.1 298.7L598.2 297.8L600.3 297.0L599.2 295.6L601.7 295.2L603.6 295.2M618.9 293.3L623.0 292.7L625.5 293.1L623.0 294.3L619.9 294.3L618.9 293.3M592.0 273.0L593.0 273.2L592.8 276.1L591.1 275.7L592.0 273.0M142.4 287.7L145.9 287.9L144.9 289.2L142.6 288.9L142.4 287.7M666.5 298.1L670.6 299.1L669.6 299.7L666.5 298.1M110.5 160.2L112.8 160.2L111.8 160.8L110.5 160.2M81.1 198.3L81.8 199.3L81.3 199.5L81.1 198.3M-745.1 334.1L-729.0 331.2L-721.8 332.6L-708.7 330.8L-696.9 332.6L-680.8 330.6L-675.0 328.3L-664.8 330.8L-651.6 326.8L-635.6 322.7L-628.2 322.7L-622.4 325.8L-613.7 326.4L-601.9 326.8L-600.5 329.7L-603.4 332.6L-599.0 336.1L-591.8 332.0L-582.9 329.7L-575.6 326.2L-562.6 323.9L-558.9 325.4L-538.4 325.8L-531.7 322.1L-525.3 324.8L-517.9 324.8L-510.6 322.7L-497.6 325.8L-490.1 323.5L-477.1 324.1L-465.3 322.7L-462.4 325.0L-443.4 325.2L-437.6 327.7L-424.5 329.3L-409.8 332.4L-392.2 333.9L-390.8 335.9L-399.7 338.8L-405.5 342.6L-405.5 346.3L-399.7 348.6L-411.3 351.5L-414.2 354.4L-405.5 357.3L-387.9 361.0L-372.6 362.0L-353.5 359.7L-336.1 362.6L-306.7 363.5L-295.2 362.0L-317.1 358.9L-317.7 356.0L-324.3 354.6L-303.9 351.7L-309.6 349.6L-327.2 347.3L-327.2 345.9L-302.4 342.1L-281.9 340.1L-261.6 338.6L-248.4 339.2L-235.1 338.6L-226.4 340.7L-207.4 342.1L-213.4 337.8L-210.3 334.9L-198.7 335.7L-203.1 337.8L-186.3 337.2L-165.8 338.6L-155.7 339.2L-149.9 337.8L-154.8 335.7L-153.4 334.1L-148.2 333.5L-146.8 329.7L-143.2 329.7L-139.5 334.1L-141.0 335.7L-138.9 326.2L-130.8 321.0L-118.4 318.1L-128.5 321.9L-134.3 326.2L-128.5 329.7L-125.6 337.2L-130.8 341.5L-142.4 344.4L-158.5 345.9L-152.8 347.3L-160.6 348.8L-158.5 351.7L-136.6 353.1L-123.4 351.7L-122.7 353.1L-135.2 353.9L-119.0 358.9L-110.3 352.5L-101.6 348.1L-91.3 348.1L-89.2 351.7L-107.4 353.9L-86.9 355.4L-72.2 353.9L-59.2 352.5L-61.3 350.2L-73.1 350.2L-70.8 348.1L-32.9 340.1L-31.5 338.6L-21.1 334.1L-12.4 333.5L0.0 334.1M0.0 334.1L16.1 331.2L23.4 332.6L36.4 330.8L48.2 332.6L64.4 330.6L70.2 328.3L80.3 330.8L93.6 326.8L109.5 322.7L116.9 322.7L122.7 325.8L131.4 326.4L143.2 326.8L144.7 329.7L141.8 332.6L146.1 336.1L153.4 332.0L162.3 329.7L169.5 326.2L182.6 323.9L186.3 325.4L206.8 325.8L213.4 322.1L219.8 324.8L227.3 324.8L234.5 322.7L247.6 325.8L255.0 323.5L268.0 324.1L279.8 322.7L282.7 325.0L301.8 325.2L307.6 327.7L320.6 329.3L335.3 332.4L352.9 333.9L354.4 335.9L345.5 338.8L339.7 342.6L339.7 346.3L345.5 348.6L333.9 351.5L331.0 354.4L339.7 357.3L357.3 361.0L372.6 362.0L391.6 359.7L409.0 362.6L438.4 363.5L450.0 362.0L428.0 358.9L427.4 356.0L420.8 354.6L441.3 351.7L435.5 349.6L417.9 347.3L417.9 345.9L442.7 342.1L463.2 340.1L483.5 338.6L496.8 339.2L510.0 338.6L518.7 340.7L537.7 342.1L531.7 337.8L534.8 334.9L546.4 335.7L542.1 337.8L558.9 337.2L579.3 338.6L589.5 339.2L595.3 337.8L590.3 335.7L591.8 334.1L596.9 333.5L598.4 329.7L601.9 329.7L605.6 334.1L604.2 335.7L606.3 326.2L614.3 321.0L626.7 318.1L616.6 321.9L610.8 326.2L616.6 329.7L619.5 337.2L614.3 341.5L602.7 344.4L586.6 345.9L592.4 347.3L584.5 348.8L586.6 351.7L608.5 353.1L621.8 351.7L622.4 353.1L610.0 353.9L626.1 358.9L634.8 352.5L643.5 348.1L653.9 348.1L655.9 351.7L637.7 353.9L658.2 355.4L672.9 353.9L685.9 352.5L683.9 350.2L672.1 350.2L674.4 348.1L712.2 340.1L713.7 338.6L724.0 334.1L732.7 333.5L745.1 334.1M745.1 334.1L761.3 331.2L768.5 332.6L781.6 330.8L793.4 332.6L809.5 330.6L815.3 328.3L825.4 330.8L838.7 326.8L854.6 322.7L862.1 322.7L867.9 325.8L876.6 326.4L888.4 326.8L889.8 329.7L886.9 332.6L891.3 336.1L898.5 332.0L907.4 329.7L914.7 326.2L927.7 323.9L931.4 325.4L951.9 325.8L958.5 322.1L965.0 324.8L972.4 324.8L979.7 322.7L992.7 325.8L1000.1 323.5L1013.2 324.1L1025.0 322.7L1027.9 325.0L1046.9 325.2L1052.7 327.7L1065.8 329.3L1080.5 332.4L1098.0 333.9L1099.5 335.9L1090.6 338.8L1084.8 342.6L1084.8 346.3L1090.6 348.6L1079.0 351.5L1076.1 354.4L1084.8 357.3L1102.4 361.0L1117.7 362.0L1136.8 359.7L1154.1 362.6L1183.5 363.5L1195.1 362.0L1173.2 358.9L1172.6 356.0L1165.9 354.6L1186.4 351.7L1180.6 349.6L1163.0 347.3L1163.0 345.9L1187.9 342.1L1208.4 340.1L1228.7 338.6L1241.9 339.2L1255.1 338.6L1263.8 340.7L1282.9 342.1L1276.9 337.8L1280.0 334.9L1291.6 335.7L1287.2 337.8L1304.0 337.2L1324.5 338.6L1334.6 339.2L1340.4 337.8L1335.5 335.7L1336.9 334.1L1342.1 333.5L1343.5 329.7L1347.0 329.7L1350.8 334.1L1349.3 335.7L1351.4 326.2L1359.5 321.0L1371.9 318.1L1361.7 321.9L1355.9 326.2L1361.7 329.7L1364.6 337.2L1359.5 341.5L1347.9 344.4L1331.7 345.9L1337.5 347.3L1329.7 348.8L1331.7 351.7L1353.7 353.1L1366.9 351.7L1367.5 353.1L1355.1 353.9L1371.3 358.9L1380.0 352.5L1388.7 348.1L1399.0 348.1L1401.1 351.7L1382.9 353.9L1403.3 355.4L1418.0 353.9L1431.1 352.5L1429.0 350.2L1417.2 350.2L1419.5 348.1L1457.4 340.1L1458.8 338.6L1469.2 334.1L1477.9 333.5L1490.3 334.1M407.8 349.0L416.0 348.6L417.1 350.2L409.8 350.4L407.8 349.0M590.9 329.1L599.2 329.5L600.3 335.3L594.0 336.1L590.9 329.1"/><filter id="ovb" x="-5%" y="-5%" width="110%" height="110%"><feGaussianBlur stdDeviation="0.9"/></filter></defs>
<defs><clipPath id="c0"><rect x="0" y="0" width="745.1" height="372.6"/></clipPath><filter id="q0" filterUnits="userSpaceOnUse" x="-40" y="-40" width="825.1" height="452.6" color-interpolation-filters="sRGB"><feTurbulence type="fractalNoise" baseFrequency="0.035 0.05" numOctaves="3" seed="3" result="nz"/><feDisplacementMap in="SourceGraphic" in2="nz" scale="22" xChannelSelector="R" yChannelSelector="G" result="dp"/><feGaussianBlur in="dp" stdDeviation="6 3.5" result="bl"/><feTurbulence type="fractalNoise" baseFrequency="0.09 0.13" numOctaves="2" seed="11" result="n2"/><feColorMatrix in="n2" type="matrix" values="0 0 1 0 0  0 0 1 0 0  0 0 1 0 0  0 0 0 0 1" result="n3"/><feComposite in="bl" in2="n3" operator="arithmetic" k1="0" k2="1" k3="0.0500" k4="-0.0250"/><feComponentTransfer><feFuncR type="discrete" tableValues="0.9686 0.8902 0.8157 0.7176 0.5804 0.4235 0.2902 0.1843 0.0902 0.0314 0.0314"/><feFuncG type="discrete" tableValues="0.9843 0.9333 0.8824 0.8314 0.7686 0.6824 0.5961 0.4980 0.3922 0.2941 0.1882"/><feFuncB type="discrete" tableValues="1.0000 0.9765 0.9490 0.9176 0.8745 0.8392 0.7882 0.7373 0.6706 0.5765 0.4196"/></feComponentTransfer></filter></defs>
<g transform="translate(255.2 153.8)" clip-path="url(#c0)"><g filter="url(#q0)" >
<path fill="#0c0c0c" d="M641.6 20.5H683.2V31.2H641.6zM662.3 30.8H683.2V41.6H662.3zM186.3 92.9H207.2V103.7H186.3zM-40 124H124.4V134.7H-40zM-40 134.3H124.4V145.1H-40zM703.7 134.3H785.3V145.1H703.7zM-40 144.7H103.7V155.4H-40zM-40 331H310.7V341.7H-40zM-40 341.3H331.4V352.1H-40zM724.4 341.3H785.3V352.1H724.4zM-40 351.7H331.4V362.4H-40zM538.2 351.7H579.8V362.4H538.2zM662.3 351.7H785.3V362.4H662.3zM-40 362H785.3V412.8H-40z"/>
<path fill="#171717" d="M683 20.5H703.9V31.2H683zM641.6 30.8H662.5V41.6H641.6zM207 92.9H227.9V103.7H207zM-40 113.6H20.9V124.4H-40zM82.8 113.6H103.7V124.4H82.8zM124.2 113.6H145.1V124.4H124.2zM124.2 124H145.1V134.7H124.2zM703.7 124H785.3V134.7H703.7zM103.5 144.7H124.4V155.4H103.5zM703.7 144.7H785.3V155.4H703.7zM20.7 155H62.3V165.8H20.7zM82.8 155H103.7V165.8H82.8zM372.6 186.1H393.5V196.8H372.6zM103.5 320.6H145.1V331.4H103.5zM186.3 320.6H227.9V331.4H186.3zM310.5 331H331.4V341.7H310.5zM724.4 331H785.3V341.7H724.4zM331.2 341.3H352.1V352.1H331.2zM703.7 341.3H724.6V352.1H703.7zM331.2 351.7H372.8V362.4H331.2zM517.5 351.7H538.4V362.4H517.5zM579.6 351.7H662.5V362.4H579.6z"/>
<path fill="#232323" d="M621 10.1H703.9V20.9H621zM600.3 20.5H641.8V31.2H600.3zM683 30.8H703.9V41.6H683zM641.6 41.2H662.5V51.9H641.6zM144.9 92.9H186.5V103.7H144.9zM124.2 103.3H227.9V114H124.2zM20.7 113.6H83V124.4H20.7zM103.5 113.6H124.4V124.4H103.5zM144.9 113.6H165.8V124.4H144.9zM496.8 113.6H538.4V124.4H496.8zM724.4 113.6H785.3V124.4H724.4zM144.9 124H165.8V134.7H144.9zM517.5 124H538.4V134.7H517.5zM600.3 124H703.9V134.7H600.3zM124.2 134.3H145.1V145.1H124.2zM372.6 134.3H434.9V145.1H372.6zM579.6 134.3H703.9V145.1H579.6zM124.2 144.7H145.1V155.4H124.2zM331.2 144.7H434.9V155.4H331.2zM558.9 144.7H703.9V155.4H558.9zM-40 155H20.9V165.8H-40zM62.1 155H83V165.8H62.1zM103.5 155H145.1V165.8H103.5zM165.6 155H186.5V165.8H165.6zM331.2 155H352.1V165.8H331.2zM579.6 155H703.9V165.8H579.6zM82.8 165.4H186.5V176.1H82.8zM82.8 175.7H186.5V186.5H82.8zM372.6 175.7H497V186.5H372.6zM351.9 186.1H372.8V196.8H351.9zM393.3 186.1H476.3V196.8H393.3zM82.8 196.4H165.8V207.2H82.8zM393.3 196.4H497V207.2H393.3zM103.5 206.8H124.4V217.5H103.5zM227.7 206.8H269.3V217.5H227.7zM434.7 206.8H517.7V217.5H434.7zM41.4 217.1H62.3V227.9H41.4zM103.5 217.1H124.4V227.9H103.5zM227.7 217.1H290V227.9H227.7zM455.4 217.1H497V227.9H455.4zM20.7 227.5H41.6V238.2H20.7zM103.5 227.5H186.5V238.2H103.5zM227.7 227.5H310.7V238.2H227.7zM351.9 227.5H372.8V238.2H351.9zM496.8 227.5H517.7V238.2H496.8zM600.3 227.5H621.2V238.2H600.3zM662.3 227.5H703.9V238.2H662.3zM-40 237.8H41.6V248.6H-40zM82.8 237.8H103.7V248.6H82.8zM186.3 237.8H207.2V248.6H186.3zM227.7 237.8H310.7V248.6H227.7zM331.2 237.8H352.1V248.6H331.2zM538.2 237.8H621.2V248.6H538.2zM703.7 237.8H785.3V248.6H703.7zM579.6 248.2H621.2V258.9H579.6zM600.3 258.5H621.2V269.3H600.3zM144.9 320.6H186.5V331.4H144.9zM227.7 320.6H248.6V331.4H227.7zM331.2 331H352.1V341.7H331.2zM703.7 331H724.6V341.7H703.7zM351.9 341.3H372.8V352.1H351.9zM434.7 341.3H600.5V352.1H434.7zM683 341.3H703.9V352.1H683zM372.6 351.7H517.7V362.4H372.6z"/>
<path fill="#2e2e2e" d="M621 30.8H641.8V41.6H621zM186.3 82.6H248.6V93.3H186.3zM124.2 92.9H145.1V103.7H124.2zM227.7 92.9H248.6V103.7H227.7zM-40 103.3H20.9V114H-40zM496.8 103.3H538.4V114H496.8zM165.6 113.6H207.2V124.4H165.6zM683 113.6H724.6V124.4H683zM165.6 124H186.5V134.7H165.6zM496.8 124H517.7V134.7H496.8zM579.6 124H600.5V134.7H579.6zM144.9 134.3H165.8V145.1H144.9zM351.9 134.3H372.8V145.1H351.9zM434.7 134.3H455.6V145.1H434.7zM496.8 134.3H579.8V145.1H496.8zM165.6 144.7H186.5V155.4H165.6zM310.5 144.7H331.4V155.4H310.5zM434.7 144.7H455.6V155.4H434.7zM496.8 144.7H517.7V155.4H496.8zM144.9 155H165.8V165.8H144.9zM310.5 155H331.4V165.8H310.5zM351.9 155H414.2V165.8H351.9zM558.9 155H579.8V165.8H558.9zM703.7 155H785.3V165.8H703.7zM41.4 165.4H62.3V176.1H41.4zM641.6 165.4H703.9V176.1H641.6zM351.9 175.7H372.8V186.5H351.9zM496.8 175.7H517.7V186.5H496.8zM82.8 186.1H103.7V196.8H82.8zM331.2 186.1H352.1V196.8H331.2zM476.1 186.1H497V196.8H476.1zM-40 196.4H20.9V207.2H-40zM165.6 196.4H186.5V207.2H165.6zM372.6 196.4H393.5V207.2H372.6zM496.8 196.4H538.4V207.2H496.8zM683 196.4H785.3V207.2H683zM82.8 206.8H103.7V217.5H82.8zM124.2 206.8H145.1V217.5H124.2zM207 206.8H227.9V217.5H207zM269.1 206.8H290V217.5H269.1zM393.3 206.8H434.9V217.5H393.3zM517.5 206.8H538.4V217.5H517.5zM662.3 206.8H703.9V217.5H662.3zM20.7 217.1H41.6V227.9H20.7zM82.8 217.1H103.7V227.9H82.8zM124.2 217.1H165.8V227.9H124.2zM207 217.1H227.9V227.9H207zM289.8 217.1H310.7V227.9H289.8zM434.7 217.1H455.6V227.9H434.7zM496.8 217.1H517.7V227.9H496.8zM600.3 217.1H641.8V227.9H600.3zM662.3 217.1H703.9V227.9H662.3zM41.4 227.5H103.7V238.2H41.4zM186.3 227.5H227.9V238.2H186.3zM310.5 227.5H352.1V238.2H310.5zM455.4 227.5H497V238.2H455.4zM517.5 227.5H559.1V238.2H517.5zM621 227.5H641.8V238.2H621zM703.7 227.5H785.3V238.2H703.7zM41.4 237.8H83V248.6H41.4zM103.5 237.8H186.5V248.6H103.5zM207 237.8H227.9V248.6H207zM310.5 237.8H331.4V248.6H310.5zM351.9 237.8H372.8V248.6H351.9zM496.8 237.8H538.4V248.6H496.8zM621 237.8H703.9V248.6H621zM-40 248.2H62.3V258.9H-40zM227.7 248.2H290V258.9H227.7zM538.2 248.2H579.8V258.9H538.2zM621 248.2H641.8V258.9H621zM724.4 248.2H785.3V258.9H724.4zM621 258.5H641.8V269.3H621zM600.3 268.9H641.8V279.6H600.3zM600.3 279.2H621.2V290H600.3zM82.8 320.6H103.7V331.4H82.8zM248.4 320.6H290V331.4H248.4zM351.9 331H372.8V341.7H351.9zM372.6 341.3H393.5V352.1H372.6zM414 341.3H434.9V352.1H414zM600.3 341.3H683.2V352.1H600.3z"/>
<path fill="#3a3a3a" d="M600.3 10.1H621.2V20.9H600.3zM579.6 20.5H600.5V31.2H579.6zM703.7 20.5H724.6V31.2H703.7zM600.3 30.8H621.2V41.6H600.3zM621 41.2H641.8V51.9H621zM662.3 41.2H683.2V51.9H662.3zM144.9 72.2H165.8V83H144.9zM227.7 72.2H269.3V83H227.7zM103.5 82.6H186.5V93.3H103.5zM248.4 82.6H269.3V93.3H248.4zM517.5 82.6H538.4V93.3H517.5zM-40 92.9H20.9V103.7H-40zM82.8 92.9H124.4V103.7H82.8zM517.5 92.9H538.4V103.7H517.5zM20.7 103.3H124.4V114H20.7zM227.7 103.3H248.6V114H227.7zM538.2 103.3H559.1V114H538.2zM455.4 113.6H497V124.4H455.4zM538.2 113.6H559.1V124.4H538.2zM641.6 113.6H683.2V124.4H641.6zM186.3 124H207.2V134.7H186.3zM310.5 124H497V134.7H310.5zM538.2 124H579.8V134.7H538.2zM165.6 134.3H207.2V145.1H165.6zM269.1 134.3H352.1V145.1H269.1zM455.4 134.3H497V145.1H455.4zM144.9 144.7H165.8V155.4H144.9zM186.3 144.7H207.2V155.4H186.3zM248.4 144.7H310.7V155.4H248.4zM455.4 144.7H497V155.4H455.4zM517.5 144.7H559.1V155.4H517.5zM186.3 155H207.2V165.8H186.3zM248.4 155H310.7V165.8H248.4zM414 155H434.9V165.8H414zM517.5 155H559.1V165.8H517.5zM-40 165.4H41.6V176.1H-40zM62.1 165.4H83V176.1H62.1zM351.9 165.4H434.9V176.1H351.9zM621 165.4H641.8V176.1H621zM62.1 175.7H83V186.5H62.1zM517.5 175.7H538.4V186.5H517.5zM641.6 175.7H785.3V186.5H641.6zM62.1 186.1H83V196.8H62.1zM103.5 186.1H207.2V196.8H103.5zM496.8 186.1H559.1V196.8H496.8zM662.3 186.1H785.3V196.8H662.3zM62.1 196.4H83V207.2H62.1zM186.3 196.4H207.2V207.2H186.3zM227.7 196.4H248.6V207.2H227.7zM538.2 196.4H559.1V207.2H538.2zM662.3 196.4H683.2V207.2H662.3zM20.7 206.8H83V217.5H20.7zM144.9 206.8H207.2V217.5H144.9zM289.8 206.8H310.7V217.5H289.8zM351.9 206.8H393.5V217.5H351.9zM538.2 206.8H559.1V217.5H538.2zM600.3 206.8H641.8V217.5H600.3zM703.7 206.8H724.6V217.5H703.7zM62.1 217.1H83V227.9H62.1zM165.6 217.1H207.2V227.9H165.6zM310.5 217.1H434.9V227.9H310.5zM517.5 217.1H559.1V227.9H517.5zM703.7 217.1H724.6V227.9H703.7zM-40 227.5H20.9V238.2H-40zM372.6 227.5H455.6V238.2H372.6zM558.9 227.5H600.5V238.2H558.9zM372.6 237.8H497V248.6H372.6zM62.1 248.2H227.9V258.9H62.1zM289.8 248.2H538.4V258.9H289.8zM641.6 248.2H724.6V258.9H641.6zM289.8 258.5H352.1V269.3H289.8zM372.6 258.5H579.8V269.3H372.6zM62.1 320.6H83V331.4H62.1zM289.8 320.6H310.7V331.4H289.8zM517.5 331H579.8V341.7H517.5zM683 331H703.9V341.7H683zM393.3 341.3H414.2V352.1H393.3z"/>
<path fill="#464646" d="M248.4 41.2H290V51.9H248.4zM227.7 51.5H269.3V62.3H227.7zM207 72.2H227.9V83H207zM517.5 72.2H538.4V83H517.5zM496.8 82.6H517.7V93.3H496.8zM41.4 92.9H83V103.7H41.4zM248.4 92.9H269.3V103.7H248.4zM496.8 92.9H517.7V103.7H496.8zM538.2 92.9H559.1V103.7H538.2zM476.1 103.3H497V114H476.1zM683 103.3H785.3V114H683zM414 113.6H455.6V124.4H414zM621 113.6H641.8V124.4H621zM289.8 124H310.7V134.7H289.8zM248.4 134.3H269.3V145.1H248.4zM207 155H248.6V165.8H207zM434.7 155H476.3V165.8H434.7zM496.8 155H517.7V165.8H496.8zM207 165.4H227.9V176.1H207zM310.5 165.4H352.1V176.1H310.5zM434.7 165.4H517.7V176.1H434.7zM558.9 165.4H579.8V176.1H558.9zM600.3 165.4H621.2V176.1H600.3zM703.7 165.4H785.3V176.1H703.7zM207 175.7H227.9V186.5H207zM310.5 175.7H352.1V186.5H310.5zM538.2 175.7H559.1V186.5H538.2zM-40 186.1H20.9V196.8H-40zM310.5 186.1H331.4V196.8H310.5zM20.7 196.4H62.3V207.2H20.7zM207 196.4H227.9V207.2H207zM248.4 196.4H269.3V207.2H248.4zM331.2 196.4H372.8V207.2H331.2zM579.6 196.4H600.5V207.2H579.6zM641.6 196.4H662.5V207.2H641.6zM-40 206.8H20.9V217.5H-40zM310.5 206.8H352.1V217.5H310.5zM579.6 206.8H600.5V217.5H579.6zM641.6 206.8H662.5V217.5H641.6zM724.4 206.8H785.3V217.5H724.4zM579.6 217.1H600.5V227.9H579.6zM641.6 217.1H662.5V227.9H641.6zM724.4 217.1H785.3V227.9H724.4zM641.6 227.5H662.5V238.2H641.6zM20.7 258.5H62.3V269.3H20.7zM227.7 258.5H290V269.3H227.7zM351.9 258.5H372.8V269.3H351.9zM579.6 258.5H600.5V269.3H579.6zM641.6 258.5H683.2V269.3H641.6zM310.5 268.9H331.4V279.6H310.5zM372.6 268.9H393.5V279.6H372.6zM621 279.2H641.8V290H621zM20.7 320.6H62.3V331.4H20.7zM455.4 331H517.7V341.7H455.4zM579.6 331H600.5V341.7H579.6zM662.3 331H683.2V341.7H662.3z"/>
<path fill="#515151" d="M703.7 10.1H724.6V20.9H703.7zM207 30.8H227.9V41.6H207zM579.6 30.8H600.5V41.6H579.6zM703.7 30.8H724.6V41.6H703.7zM207 41.2H248.6V51.9H207zM289.8 41.2H310.7V51.9H289.8zM434.7 41.2H497V51.9H434.7zM207 51.5H227.9V62.3H207zM269.1 51.5H310.7V62.3H269.1zM496.8 51.5H517.7V62.3H496.8zM621 51.5H662.5V62.3H621zM144.9 61.9H290V72.6H144.9zM496.8 61.9H517.7V72.6H496.8zM82.8 72.2H145.1V83H82.8zM165.6 72.2H207.2V83H165.6zM496.8 72.2H517.7V83H496.8zM41.4 82.6H103.7V93.3H41.4zM538.2 82.6H559.1V93.3H538.2zM20.7 92.9H41.6V103.7H20.7zM476.1 92.9H497V103.7H476.1zM703.7 92.9H785.3V103.7H703.7zM248.4 103.3H269.3V114H248.4zM455.4 103.3H476.3V114H455.4zM662.3 103.3H683.2V114H662.3zM207 113.6H227.9V124.4H207zM351.9 113.6H414.2V124.4H351.9zM558.9 113.6H621.2V124.4H558.9zM269.1 124H290V134.7H269.1zM227.7 144.7H248.6V155.4H227.7zM476.1 155H497V165.8H476.1zM186.3 165.4H207.2V176.1H186.3zM227.7 165.4H310.7V176.1H227.7zM517.5 165.4H559.1V176.1H517.5zM579.6 165.4H600.5V176.1H579.6zM-40 175.7H20.9V186.5H-40zM186.3 175.7H207.2V186.5H186.3zM248.4 175.7H310.7V186.5H248.4zM558.9 175.7H579.8V186.5H558.9zM621 175.7H641.8V186.5H621zM207 186.1H227.9V196.8H207zM248.4 186.1H269.3V196.8H248.4zM558.9 186.1H579.8V196.8H558.9zM600.3 186.1H621.2V196.8H600.3zM641.6 186.1H662.5V196.8H641.6zM310.5 196.4H331.4V207.2H310.5zM558.9 196.4H579.8V207.2H558.9zM600.3 196.4H641.8V207.2H600.3zM558.9 206.8H579.8V217.5H558.9zM-40 217.1H20.9V227.9H-40zM558.9 217.1H579.8V227.9H558.9zM-40 258.5H20.9V269.3H-40zM62.1 258.5H83V269.3H62.1zM186.3 258.5H227.9V269.3H186.3zM683 258.5H785.3V269.3H683zM331.2 268.9H352.1V279.6H331.2zM393.3 268.9H434.9V279.6H393.3zM538.2 268.9H579.8V279.6H538.2zM641.6 268.9H662.5V279.6H641.6zM331.2 279.2H372.8V290H331.2zM600.3 289.6H621.2V300.3H600.3zM-40 320.6H20.9V331.4H-40zM310.5 320.6H331.4V331.4H310.5zM724.4 320.6H785.3V331.4H724.4zM414 331H455.6V341.7H414zM600.3 331H662.5V341.7H600.3z"/>
<path fill="#5d5d5d" d="M579.6 10.1H600.5V20.9H579.6zM558.9 20.5H579.8V31.2H558.9zM186.3 30.8H207.2V41.6H186.3zM455.4 30.8H497V41.6H455.4zM186.3 41.2H207.2V51.9H186.3zM414 41.2H434.9V51.9H414zM496.8 41.2H517.7V51.9H496.8zM600.3 41.2H621.2V51.9H600.3zM186.3 51.5H207.2V62.3H186.3zM476.1 51.5H497V62.3H476.1zM538.2 72.2H559.1V83H538.2zM476.1 82.6H497V93.3H476.1zM724.4 82.6H785.3V93.3H724.4zM558.9 92.9H579.8V103.7H558.9zM683 92.9H703.9V103.7H683zM434.7 103.3H455.6V114H434.7zM558.9 103.3H600.5V114H558.9zM641.6 103.3H662.5V114H641.6zM331.2 113.6H352.1V124.4H331.2zM227.7 134.3H248.6V145.1H227.7zM207 144.7H227.9V155.4H207zM41.4 175.7H62.3V186.5H41.4zM579.6 175.7H621.2V186.5H579.6zM227.7 186.1H248.6V196.8H227.7zM579.6 186.1H600.5V196.8H579.6zM621 186.1H641.8V196.8H621zM269.1 196.4H290V207.2H269.1zM82.8 258.5H186.5V269.3H82.8zM248.4 268.9H310.7V279.6H248.4zM351.9 268.9H372.8V279.6H351.9zM434.7 268.9H538.4V279.6H434.7zM662.3 268.9H683.2V279.6H662.3zM289.8 279.2H331.4V290H289.8zM372.6 279.2H393.5V290H372.6zM641.6 279.2H662.5V290H641.6zM621 289.6H641.8V300.3H621zM331.2 320.6H352.1V331.4H331.2zM621 320.6H641.8V331.4H621zM703.7 320.6H724.6V331.4H703.7zM372.6 331H414.2V341.7H372.6z"/>
<path fill="#686868" d="M558.9 10.1H579.8V20.9H558.9zM144.9 20.5H207.2V31.2H144.9zM476.1 20.5H559.1V31.2H476.1zM724.4 20.5H785.3V31.2H724.4zM144.9 30.8H186.5V41.6H144.9zM227.7 30.8H310.7V41.6H227.7zM414 30.8H455.6V41.6H414zM496.8 30.8H579.8V41.6H496.8zM41.4 41.2H83V51.9H41.4zM103.5 41.2H186.5V51.9H103.5zM310.5 41.2H331.4V51.9H310.5zM393.3 41.2H414.2V51.9H393.3zM517.5 41.2H600.5V51.9H517.5zM683 41.2H703.9V51.9H683zM20.7 51.5H83V62.3H20.7zM103.5 51.5H186.5V62.3H103.5zM310.5 51.5H331.4V62.3H310.5zM434.7 51.5H476.3V62.3H434.7zM517.5 51.5H579.8V62.3H517.5zM-40 61.9H62.3V72.6H-40zM82.8 61.9H145.1V72.6H82.8zM289.8 61.9H310.7V72.6H289.8zM517.5 61.9H579.8V72.6H517.5zM-40 72.2H83V83H-40zM269.1 72.2H290V83H269.1zM455.4 72.2H476.3V83H455.4zM558.9 72.2H579.8V83H558.9zM724.4 72.2H785.3V83H724.4zM-40 82.6H41.6V93.3H-40zM269.1 82.6H290V93.3H269.1zM455.4 82.6H476.3V93.3H455.4zM558.9 82.6H579.8V93.3H558.9zM269.1 92.9H290V103.7H269.1zM455.4 92.9H476.3V103.7H455.4zM579.6 92.9H600.5V103.7H579.6zM372.6 103.3H434.9V114H372.6zM621 103.3H641.8V114H621zM227.7 113.6H331.4V124.4H227.7zM207 124H227.9V134.7H207zM248.4 124H269.3V134.7H248.4zM207 134.3H227.9V145.1H207zM20.7 175.7H41.6V186.5H20.7zM227.7 175.7H248.6V186.5H227.7zM41.4 186.1H62.3V196.8H41.4zM269.1 186.1H290V196.8H269.1zM41.4 268.9H145.1V279.6H41.4zM207 268.9H248.6V279.6H207zM683 268.9H703.9V279.6H683zM269.1 279.2H290V290H269.1zM393.3 279.2H414.2V290H393.3zM496.8 279.2H579.8V290H496.8zM269.1 289.6H372.8V300.3H269.1zM103.5 310.3H145.1V321H103.5zM186.3 310.3H207.2V321H186.3zM600.3 320.6H621.2V331.4H600.3zM641.6 320.6H703.9V331.4H641.6z"/>
<path fill="#747474" d="M496.8 10.1H559.1V20.9H496.8zM724.4 10.1H785.3V20.9H724.4zM207 20.5H227.9V31.2H207zM455.4 20.5H476.3V31.2H455.4zM310.5 30.8H331.4V41.6H310.5zM724.4 30.8H785.3V41.6H724.4zM331.2 41.2H352.1V51.9H331.2zM331.2 51.5H352.1V62.3H331.2zM414 51.5H434.9V62.3H414zM579.6 51.5H621.2V62.3H579.6zM476.1 61.9H497V72.6H476.1zM724.4 61.9H785.3V72.6H724.4zM289.8 72.2H310.7V83H289.8zM476.1 72.2H497V83H476.1zM289.8 82.6H310.7V93.3H289.8zM579.6 82.6H600.5V93.3H579.6zM703.7 82.6H724.6V93.3H703.7zM434.7 92.9H455.6V103.7H434.7zM600.3 92.9H621.2V103.7H600.3zM662.3 92.9H683.2V103.7H662.3zM269.1 103.3H290V114H269.1zM351.9 103.3H372.8V114H351.9zM600.3 103.3H621.2V114H600.3zM20.7 186.1H41.6V196.8H20.7zM289.8 186.1H310.7V196.8H289.8zM289.8 196.4H310.7V207.2H289.8zM-40 268.9H41.6V279.6H-40zM144.9 268.9H207.2V279.6H144.9zM579.6 268.9H600.5V279.6H579.6zM703.7 268.9H785.3V279.6H703.7zM124.2 279.2H145.1V290H124.2zM248.4 279.2H269.3V290H248.4zM414 279.2H497V290H414zM662.3 279.2H683.2V290H662.3zM372.6 289.6H393.5V300.3H372.6zM641.6 289.6H662.5V300.3H641.6zM269.1 299.9H310.7V310.7H269.1zM600.3 299.9H621.2V310.7H600.3zM62.1 310.3H103.7V321H62.1zM144.9 310.3H186.5V321H144.9zM207 310.3H290V321H207zM621 310.3H641.8V321H621zM351.9 320.6H372.8V331.4H351.9zM476.1 320.6H600.5V331.4H476.1z"/>
<path fill="#808080" d="M-40 10.1H20.9V20.9H-40zM62.1 10.1H103.7V20.9H62.1zM144.9 10.1H186.5V20.9H144.9zM455.4 10.1H497V20.9H455.4zM124.2 20.5H145.1V31.2H124.2zM227.7 20.5H455.6V31.2H227.7zM82.8 30.8H145.1V41.6H82.8zM331.2 30.8H414.2V41.6H331.2zM-40 41.2H41.6V51.9H-40zM82.8 41.2H103.7V51.9H82.8zM351.9 41.2H393.5V51.9H351.9zM724.4 41.2H785.3V51.9H724.4zM-40 51.5H20.9V62.3H-40zM82.8 51.5H103.7V62.3H82.8zM393.3 51.5H414.2V62.3H393.3zM724.4 51.5H785.3V62.3H724.4zM62.1 61.9H83V72.6H62.1zM310.5 61.9H331.4V72.6H310.5zM434.7 61.9H476.3V72.6H434.7zM579.6 61.9H641.8V72.6H579.6zM310.5 72.2H331.4V83H310.5zM434.7 72.2H455.6V83H434.7zM579.6 72.2H641.8V83H579.6zM703.7 72.2H724.6V83H703.7zM310.5 82.6H331.4V93.3H310.5zM414 82.6H455.6V93.3H414zM600.3 82.6H641.8V93.3H600.3zM683 82.6H703.9V93.3H683zM289.8 92.9H310.7V103.7H289.8zM331.2 92.9H434.9V103.7H331.2zM621 92.9H662.5V103.7H621zM289.8 103.3H352.1V114H289.8zM227.7 124H248.6V134.7H227.7zM-40 279.2H124.4V290H-40zM144.9 279.2H248.6V290H144.9zM579.6 279.2H600.5V290H579.6zM683 279.2H724.6V290H683zM82.8 289.6H165.8V300.3H82.8zM186.3 289.6H269.3V300.3H186.3zM393.3 289.6H414.2V300.3H393.3zM496.8 289.6H579.8V300.3H496.8zM662.3 289.6H683.2V300.3H662.3zM62.1 299.9H165.8V310.7H62.1zM207 299.9H269.3V310.7H207zM310.5 299.9H372.8V310.7H310.5zM538.2 299.9H600.5V310.7H538.2zM621 299.9H662.5V310.7H621zM-40 310.3H62.3V321H-40zM289.8 310.3H331.4V321H289.8zM538.2 310.3H621.2V321H538.2zM641.6 310.3H683.2V321H641.6zM372.6 320.6H476.3V331.4H372.6z"/>
<path fill="#8b8b8b" d="M476.1 -40.2H683.2V10.5H476.1zM186.3 10.1H455.6V20.9H186.3zM703.7 41.2H724.6V51.9H703.7zM351.9 51.5H393.5V62.3H351.9zM662.3 51.5H683.2V62.3H662.3zM331.2 61.9H352.1V72.6H331.2zM414 61.9H434.9V72.6H414zM641.6 61.9H662.5V72.6H641.6zM703.7 61.9H724.6V72.6H703.7zM331.2 72.2H352.1V83H331.2zM414 72.2H434.9V83H414zM331.2 82.6H414.2V93.3H331.2zM641.6 82.6H683.2V93.3H641.6zM310.5 92.9H331.4V103.7H310.5zM724.4 279.2H785.3V290H724.4zM62.1 289.6H83V300.3H62.1zM165.6 289.6H186.5V300.3H165.6zM414 289.6H455.6V300.3H414zM476.1 289.6H497V300.3H476.1zM579.6 289.6H600.5V300.3H579.6zM683 289.6H703.9V300.3H683zM20.7 299.9H62.3V310.7H20.7zM165.6 299.9H207.2V310.7H165.6zM372.6 299.9H393.5V310.7H372.6zM496.8 299.9H538.4V310.7H496.8zM662.3 299.9H683.2V310.7H662.3zM496.8 310.3H538.4V321H496.8zM683 310.3H785.3V321H683z"/>
<path fill="#979797" d="M-40 -40.2H476.3V10.5H-40zM683 -40.2H785.3V10.5H683zM20.7 10.1H62.3V20.9H20.7zM103.5 10.1H145.1V20.9H103.5zM-40 20.5H124.4V31.2H-40zM-40 30.8H83V41.6H-40zM683 51.5H724.6V62.3H683zM351.9 61.9H414.2V72.6H351.9zM662.3 61.9H703.9V72.6H662.3zM351.9 72.2H414.2V83H351.9zM641.6 72.2H703.9V83H641.6zM-40 289.6H62.3V300.3H-40zM455.4 289.6H476.3V300.3H455.4zM703.7 289.6H785.3V300.3H703.7zM-40 299.9H20.9V310.7H-40zM393.3 299.9H497V310.7H393.3zM683 299.9H785.3V310.7H683zM331.2 310.3H497V321H331.2z"/>
<ellipse cx="21.7" cy="30.1" rx="9.5" ry="5.1" fill="#aeaeae"/><ellipse cx="42.1" cy="62.2" rx="5.8" ry="6.6" fill="#515151"/><path d="M584.7 171.8L582.7 182.1L580.6 188.4" fill="none" stroke="#979797" stroke-width="8" stroke-linecap="round" stroke-linejoin="round"/><path d="M282.5 193.5L291.8 196.2L300.1 199.3" fill="none" stroke="#aeaeae" stroke-width="8" stroke-linecap="round" stroke-linejoin="round"/><ellipse cx="237" cy="184.2" rx="6.2" ry="5.2" fill="#979797"/><ellipse cx="706.8" cy="51.7" rx="8.3" ry="2.9" fill="#c5c5c5"/><path d="M455.4 63.1L469.9 70.4L480.2 79.7L487.4 86.9" fill="none" stroke="#979797" stroke-width="7" stroke-linecap="round" stroke-linejoin="round"/><ellipse cx="303.2" cy="273.2" rx="3.1" ry="3.1" fill="#808080"/>
</g><g filter="url(#ovb)"><path d="M597.4 272.2L596.9 279.3L594.5 289L601.8 296.3L609 300" fill="none" stroke="#6caed6" stroke-width="11" stroke-linecap="round" stroke-linejoin="round"/><path d="M597.4 272.2L596.9 279.3L594.5 289L601.8 296.3L609 300" fill="none" stroke="#4a98c9" stroke-width="8" stroke-linecap="round" stroke-linejoin="round"/><path d="M597.4 272.2L596.9 279.3L594.5 289L601.8 296.3" fill="none" stroke="#2f7fbc" stroke-width="5" stroke-linecap="round" stroke-linejoin="round"/><path d="M597.8 227.2L599.8 244.2L601.3 260.2" fill="none" stroke="#e3eef9" stroke-width="5" stroke-linecap="round" stroke-linejoin="round"/><path d="M597.8 227.2L599.8 244.2L601.3 260.2" fill="none" stroke="#f7fbff" stroke-width="2.5" stroke-linecap="round" stroke-linejoin="round"/><path d="M357.3 271.2L350.8 278.7L345.8 281.7" fill="none" stroke="#6caed6" stroke-width="7" stroke-linecap="round" stroke-linejoin="round"/><path d="M357.3 271.2L350.8 278.7L345.8 281.7" fill="none" stroke="#4a98c9" stroke-width="4" stroke-linecap="round" stroke-linejoin="round"/><path d="M291.8 98.2L288.8 107.2L279.8 114.2" fill="none" stroke="#6caed6" stroke-width="6" stroke-linecap="round" stroke-linejoin="round"/></g>
<use href="#coast" fill="none" stroke="#000" stroke-width="0.85" stroke-linejoin="round"/></g>
<defs><clipPath id="c1"><rect x="0" y="0" width="745.1" height="372.6"/></clipPath><filter id="q1" filterUnits="userSpaceOnUse" x="-40" y="-40" width="825.1" height="452.6" color-interpolation-filters="sRGB"><feTurbulence type="fractalNoise" baseFrequency="0.035 0.05" numOctaves="3" seed="4" result="nz"/><feDisplacementMap in="SourceGraphic" in2="nz" scale="22" xChannelSelector="R" yChannelSelector="G" result="dp"/><feGaussianBlur in="dp" stdDeviation="6 3.5" result="bl"/><feTurbulence type="fractalNoise" baseFrequency="0.09 0.13" numOctaves="2" seed="12" result="n2"/><feColorMatrix in="n2" type="matrix" values="0 0 1 0 0  0 0 1 0 0  0 0 1 0 0  0 0 0 0 1" result="n3"/><feComposite in="bl" in2="n3" operator="arithmetic" k1="0" k2="1" k3="0.0500" k4="-0.0250"/><feComponentTransfer><feFuncR type="discrete" tableValues="0.9686 0.8902 0.8157 0.7176 0.5804 0.4235 0.2902 0.1843 0.0902 0.0314 0.0314"/><feFuncG type="discrete" tableValues="0.9843 0.9333 0.8824 0.8314 0.7686 0.6824 0.5961 0.4980 0.3922 0.2941 0.1882"/><feFuncB type="discrete" tableValues="1.0000 0.9765 0.9490 0.9176 0.8745 0.8392 0.7882 0.7373 0.6706 0.5765 0.4196"/></feComponentTransfer></filter></defs>
<g transform="translate(255.2 623.9)" clip-path="url(#c1)"><g filter="url(#q1)" >
<path fill="#0c0c0c" d="M-40 124H83V134.7H-40zM103.5 124H124.4V134.7H103.5zM724.4 124H785.3V134.7H724.4zM-40 134.3H124.4V145.1H-40zM724.4 134.3H785.3V145.1H724.4zM-40 144.7H62.3V155.4H-40zM434.7 186.1H476.3V196.8H434.7zM269.1 341.3H290V352.1H269.1z"/>
<path fill="#171717" d="M-40 113.6H41.6V124.4H-40zM62.1 113.6H83V124.4H62.1zM124.2 113.6H145.1V124.4H124.2zM724.4 113.6H785.3V124.4H724.4zM82.8 124H103.7V134.7H82.8zM124.2 124H165.8V134.7H124.2zM703.7 124H724.6V134.7H703.7zM703.7 134.3H724.6V145.1H703.7zM62.1 144.7H124.4V155.4H62.1zM103.5 175.7H124.4V186.5H103.5zM476.1 175.7H497V186.5H476.1zM82.8 186.1H103.7V196.8H82.8zM393.3 186.1H434.9V196.8H393.3zM476.1 186.1H517.7V196.8H476.1zM434.7 196.4H497V207.2H434.7zM683 206.8H703.9V217.5H683zM683 217.1H703.9V227.9H683zM20.7 237.8H41.6V248.6H20.7zM269.1 331H310.7V341.7H269.1zM248.4 341.3H269.3V352.1H248.4zM289.8 341.3H310.7V352.1H289.8zM41.4 351.7H83V362.4H41.4z"/>
<path fill="#232323" d="M186.3 92.9H207.2V103.7H186.3zM-40 103.3H62.3V114H-40zM41.4 113.6H62.3V124.4H41.4zM82.8 113.6H124.4V124.4H82.8zM165.6 124H186.5V134.7H165.6zM393.3 124H434.9V134.7H393.3zM517.5 124H538.4V134.7H517.5zM621 124H703.9V134.7H621zM124.2 134.3H165.8V145.1H124.2zM289.8 134.3H455.6V145.1H289.8zM579.6 134.3H703.9V145.1H579.6zM124.2 144.7H145.1V155.4H124.2zM289.8 144.7H455.6V155.4H289.8zM579.6 144.7H785.3V155.4H579.6zM-40 155H62.3V165.8H-40zM82.8 155H186.5V165.8H82.8zM310.5 155H414.2V165.8H310.5zM600.3 155H785.3V165.8H600.3zM103.5 165.4H145.1V176.1H103.5zM124.2 175.7H145.1V186.5H124.2zM393.3 175.7H476.3V186.5H393.3zM496.8 175.7H517.7V186.5H496.8zM103.5 186.1H124.4V196.8H103.5zM372.6 186.1H393.5V196.8H372.6zM517.5 186.1H538.4V196.8H517.5zM683 186.1H785.3V196.8H683zM-40 196.4H20.9V207.2H-40zM82.8 196.4H124.4V207.2H82.8zM393.3 196.4H434.9V207.2H393.3zM496.8 196.4H538.4V207.2H496.8zM683 196.4H724.6V207.2H683zM82.8 206.8H124.4V217.5H82.8zM207 206.8H269.3V217.5H207zM414 206.8H538.4V217.5H414zM662.3 206.8H683.2V217.5H662.3zM703.7 206.8H724.6V217.5H703.7zM20.7 217.1H62.3V227.9H20.7zM103.5 217.1H310.7V227.9H103.5zM434.7 217.1H538.4V227.9H434.7zM703.7 217.1H724.6V227.9H703.7zM20.7 227.5H62.3V238.2H20.7zM82.8 227.5H186.5V238.2H82.8zM227.7 227.5H331.4V238.2H227.7zM476.1 227.5H538.4V238.2H476.1zM703.7 227.5H724.6V238.2H703.7zM41.4 237.8H62.3V248.6H41.4zM248.4 237.8H310.7V248.6H248.4zM62.1 331H124.4V341.7H62.1zM165.6 331H269.3V341.7H165.6zM310.5 331H331.4V341.7H310.5zM-40 341.3H20.9V352.1H-40zM227.7 341.3H248.6V352.1H227.7zM310.5 341.3H331.4V352.1H310.5zM-40 351.7H41.6V362.4H-40zM82.8 351.7H103.7V362.4H82.8zM165.6 351.7H331.4V362.4H165.6zM-40 362H372.8V412.8H-40zM558.9 362H579.8V412.8H558.9zM662.3 362H785.3V412.8H662.3z"/>
<path fill="#2e2e2e" d="M662.3 20.5H703.9V31.2H662.3zM186.3 82.6H227.9V93.3H186.3zM-40 92.9H20.9V103.7H-40zM124.2 92.9H145.1V103.7H124.2zM165.6 92.9H186.5V103.7H165.6zM207 92.9H248.6V103.7H207zM62.1 103.3H83V114H62.1zM124.2 103.3H145.1V114H124.2zM165.6 103.3H207.2V114H165.6zM496.8 103.3H538.4V114H496.8zM724.4 103.3H785.3V114H724.4zM144.9 113.6H186.5V124.4H144.9zM496.8 113.6H538.4V124.4H496.8zM641.6 113.6H724.6V124.4H641.6zM310.5 124H393.5V134.7H310.5zM434.7 124H455.6V134.7H434.7zM496.8 124H517.7V134.7H496.8zM579.6 124H621.2V134.7H579.6zM165.6 134.3H186.5V145.1H165.6zM496.8 134.3H579.8V145.1H496.8zM144.9 144.7H186.5V155.4H144.9zM455.4 144.7H476.3V155.4H455.4zM496.8 144.7H538.4V155.4H496.8zM558.9 144.7H579.8V155.4H558.9zM62.1 155H83V165.8H62.1zM289.8 155H310.7V165.8H289.8zM414 155H455.6V165.8H414zM579.6 155H600.5V165.8H579.6zM82.8 165.4H103.7V176.1H82.8zM144.9 165.4H186.5V176.1H144.9zM641.6 165.4H662.5V176.1H641.6zM41.4 175.7H62.3V186.5H41.4zM82.8 175.7H103.7V186.5H82.8zM144.9 175.7H186.5V186.5H144.9zM351.9 175.7H393.5V186.5H351.9zM517.5 175.7H538.4V186.5H517.5zM641.6 175.7H724.6V186.5H641.6zM-40 186.1H20.9V196.8H-40zM124.2 186.1H145.1V196.8H124.2zM331.2 186.1H372.8V196.8H331.2zM538.2 186.1H559.1V196.8H538.2zM662.3 186.1H683.2V196.8H662.3zM62.1 196.4H83V207.2H62.1zM124.2 196.4H145.1V207.2H124.2zM207 196.4H269.3V207.2H207zM372.6 196.4H393.5V207.2H372.6zM538.2 196.4H559.1V207.2H538.2zM662.3 196.4H683.2V207.2H662.3zM724.4 196.4H785.3V207.2H724.4zM20.7 206.8H62.3V217.5H20.7zM124.2 206.8H165.8V217.5H124.2zM186.3 206.8H207.2V217.5H186.3zM269.1 206.8H310.7V217.5H269.1zM393.3 206.8H414.2V217.5H393.3zM538.2 206.8H559.1V217.5H538.2zM-40 217.1H20.9V227.9H-40zM62.1 217.1H103.7V227.9H62.1zM310.5 217.1H331.4V227.9H310.5zM414 217.1H434.9V227.9H414zM538.2 217.1H559.1V227.9H538.2zM662.3 217.1H683.2V227.9H662.3zM724.4 217.1H785.3V227.9H724.4zM-40 227.5H20.9V238.2H-40zM62.1 227.5H83V238.2H62.1zM186.3 227.5H227.9V238.2H186.3zM331.2 227.5H352.1V238.2H331.2zM455.4 227.5H476.3V238.2H455.4zM538.2 227.5H559.1V238.2H538.2zM600.3 227.5H621.2V238.2H600.3zM662.3 227.5H703.9V238.2H662.3zM724.4 227.5H785.3V238.2H724.4zM-40 237.8H20.9V248.6H-40zM62.1 237.8H186.5V248.6H62.1zM227.7 237.8H248.6V248.6H227.7zM310.5 237.8H352.1V248.6H310.5zM496.8 237.8H559.1V248.6H496.8zM600.3 237.8H621.2V248.6H600.3zM724.4 237.8H785.3V248.6H724.4zM20.7 248.2H41.6V258.9H20.7zM269.1 248.2H310.7V258.9H269.1zM600.3 248.2H621.2V258.9H600.3zM600.3 258.5H621.2V269.3H600.3zM600.3 268.9H621.2V279.6H600.3zM186.3 320.6H207.2V331.4H186.3zM-40 331H62.3V341.7H-40zM124.2 331H165.8V341.7H124.2zM20.7 341.3H165.8V352.1H20.7zM207 341.3H227.9V352.1H207zM724.4 341.3H785.3V352.1H724.4zM103.5 351.7H165.8V362.4H103.5zM331.2 351.7H352.1V362.4H331.2zM703.7 351.7H785.3V362.4H703.7zM372.6 362H434.9V412.8H372.6zM579.6 362H662.5V412.8H579.6z"/>
<path fill="#3a3a3a" d="M621 20.5H662.5V31.2H621zM641.6 30.8H683.2V41.6H641.6zM641.6 41.2H662.5V51.9H641.6zM227.7 51.5H269.3V62.3H227.7zM207 72.2H269.3V83H207zM124.2 82.6H186.5V93.3H124.2zM227.7 82.6H269.3V93.3H227.7zM41.4 92.9H83V103.7H41.4zM144.9 92.9H165.8V103.7H144.9zM248.4 92.9H269.3V103.7H248.4zM496.8 92.9H538.4V103.7H496.8zM82.8 103.3H124.4V114H82.8zM144.9 103.3H165.8V114H144.9zM476.1 103.3H497V114H476.1zM683 103.3H724.6V114H683zM372.6 113.6H497V124.4H372.6zM538.2 113.6H559.1V124.4H538.2zM600.3 113.6H641.8V124.4H600.3zM289.8 124H310.7V134.7H289.8zM455.4 124H497V134.7H455.4zM538.2 124H579.8V134.7H538.2zM186.3 134.3H207.2V145.1H186.3zM269.1 134.3H290V145.1H269.1zM455.4 134.3H476.3V145.1H455.4zM186.3 144.7H207.2V155.4H186.3zM227.7 144.7H290V155.4H227.7zM476.1 144.7H497V155.4H476.1zM538.2 144.7H559.1V155.4H538.2zM186.3 155H207.2V165.8H186.3zM227.7 155H290V165.8H227.7zM455.4 155H579.8V165.8H455.4zM20.7 165.4H62.3V176.1H20.7zM186.3 165.4H372.8V176.1H186.3zM621 165.4H641.8V176.1H621zM662.3 165.4H683.2V176.1H662.3zM62.1 175.7H83V186.5H62.1zM248.4 175.7H352.1V186.5H248.4zM538.2 175.7H559.1V186.5H538.2zM724.4 175.7H785.3V186.5H724.4zM62.1 186.1H83V196.8H62.1zM144.9 186.1H186.5V196.8H144.9zM227.7 186.1H269.3V196.8H227.7zM641.6 186.1H662.5V196.8H641.6zM41.4 196.4H62.3V207.2H41.4zM144.9 196.4H207.2V207.2H144.9zM331.2 196.4H372.8V207.2H331.2zM558.9 196.4H579.8V207.2H558.9zM641.6 196.4H662.5V207.2H641.6zM-40 206.8H20.9V217.5H-40zM62.1 206.8H83V217.5H62.1zM165.6 206.8H186.5V217.5H165.6zM310.5 206.8H393.5V217.5H310.5zM621 206.8H641.8V217.5H621zM724.4 206.8H785.3V217.5H724.4zM331.2 217.1H414.2V227.9H331.2zM621 217.1H641.8V227.9H621zM351.9 227.5H455.6V238.2H351.9zM621 227.5H641.8V238.2H621zM186.3 237.8H227.9V248.6H186.3zM351.9 237.8H497V248.6H351.9zM558.9 237.8H600.5V248.6H558.9zM641.6 237.8H724.6V248.6H641.6zM-40 248.2H20.9V258.9H-40zM41.4 248.2H269.3V258.9H41.4zM310.5 248.2H434.9V258.9H310.5zM517.5 248.2H600.5V258.9H517.5zM621 248.2H662.5V258.9H621zM248.4 258.5H352.1V269.3H248.4zM372.6 258.5H393.5V269.3H372.6zM621 258.5H641.8V269.3H621zM600.3 279.2H621.2V290H600.3zM103.5 320.6H124.4V331.4H103.5zM207 320.6H227.9V331.4H207zM331.2 331H352.1V341.7H331.2zM165.6 341.3H207.2V352.1H165.6zM703.7 341.3H724.6V352.1H703.7zM558.9 351.7H579.8V362.4H558.9zM662.3 351.7H703.9V362.4H662.3zM434.7 362H559.1V412.8H434.7z"/>
<path fill="#464646" d="M558.9 10.1H724.6V20.9H558.9zM579.6 20.5H621.2V31.2H579.6zM455.4 30.8H476.3V41.6H455.4zM621 30.8H641.8V41.6H621zM683 30.8H703.9V41.6H683zM227.7 41.2H331.4V51.9H227.7zM434.7 41.2H455.6V51.9H434.7zM476.1 41.2H497V51.9H476.1zM621 41.2H641.8V51.9H621zM662.3 41.2H683.2V51.9H662.3zM207 51.5H227.9V62.3H207zM269.1 51.5H290V62.3H269.1zM434.7 51.5H455.6V62.3H434.7zM476.1 51.5H517.7V62.3H476.1zM186.3 72.2H207.2V83H186.3zM269.1 72.2H290V83H269.1zM103.5 82.6H124.4V93.3H103.5zM269.1 82.6H290V93.3H269.1zM496.8 82.6H538.4V93.3H496.8zM20.7 92.9H41.6V103.7H20.7zM82.8 92.9H124.4V103.7H82.8zM476.1 92.9H497V103.7H476.1zM538.2 92.9H559.1V103.7H538.2zM724.4 92.9H785.3V103.7H724.4zM207 103.3H269.3V114H207zM455.4 103.3H476.3V114H455.4zM538.2 103.3H559.1V114H538.2zM641.6 103.3H683.2V114H641.6zM331.2 113.6H372.8V124.4H331.2zM558.9 113.6H600.5V124.4H558.9zM269.1 124H290V134.7H269.1zM248.4 134.3H269.3V145.1H248.4zM476.1 134.3H497V145.1H476.1zM207 155H227.9V165.8H207zM-40 165.4H20.9V176.1H-40zM62.1 165.4H83V176.1H62.1zM372.6 165.4H434.9V176.1H372.6zM517.5 165.4H559.1V176.1H517.5zM600.3 165.4H621.2V176.1H600.3zM683 165.4H785.3V176.1H683zM20.7 175.7H41.6V186.5H20.7zM186.3 175.7H248.6V186.5H186.3zM20.7 186.1H62.3V196.8H20.7zM186.3 186.1H227.9V196.8H186.3zM269.1 186.1H290V196.8H269.1zM310.5 186.1H331.4V196.8H310.5zM558.9 186.1H579.8V196.8H558.9zM20.7 196.4H41.6V207.2H20.7zM269.1 196.4H331.4V207.2H269.1zM621 196.4H641.8V207.2H621zM558.9 206.8H579.8V217.5H558.9zM600.3 206.8H621.2V217.5H600.3zM641.6 206.8H662.5V217.5H641.6zM558.9 217.1H579.8V227.9H558.9zM641.6 217.1H662.5V227.9H641.6zM558.9 227.5H579.8V238.2H558.9zM641.6 227.5H662.5V238.2H641.6zM621 237.8H641.8V248.6H621zM434.7 248.2H455.6V258.9H434.7zM496.8 248.2H517.7V258.9H496.8zM662.3 248.2H683.2V258.9H662.3zM724.4 248.2H785.3V258.9H724.4zM20.7 258.5H103.7V269.3H20.7zM207 258.5H248.6V269.3H207zM351.9 258.5H372.8V269.3H351.9zM393.3 258.5H434.9V269.3H393.3zM538.2 258.5H600.5V269.3H538.2zM641.6 258.5H662.5V269.3H641.6zM289.8 268.9H310.7V279.6H289.8zM372.6 268.9H393.5V279.6H372.6zM621 268.9H641.8V279.6H621zM621 279.2H641.8V290H621zM227.7 320.6H290V331.4H227.7zM724.4 331H785.3V341.7H724.4zM331.2 341.3H352.1V352.1H331.2zM455.4 341.3H497V352.1H455.4zM558.9 341.3H579.8V352.1H558.9zM351.9 351.7H372.8V362.4H351.9zM476.1 351.7H497V362.4H476.1zM538.2 351.7H559.1V362.4H538.2zM579.6 351.7H662.5V362.4H579.6z"/>
<path fill="#515151" d="M558.9 -40.2H662.5V10.5H558.9zM227.7 10.1H248.6V20.9H227.7zM331.2 10.1H559.1V20.9H331.2zM724.4 10.1H785.3V20.9H724.4zM331.2 20.5H497V31.2H331.2zM538.2 20.5H579.8V31.2H538.2zM703.7 20.5H724.6V31.2H703.7zM248.4 30.8H455.6V41.6H248.4zM476.1 30.8H497V41.6H476.1zM600.3 30.8H621.2V41.6H600.3zM207 41.2H227.9V51.9H207zM331.2 41.2H372.8V51.9H331.2zM393.3 41.2H434.9V51.9H393.3zM455.4 41.2H476.3V51.9H455.4zM124.2 51.5H145.1V62.3H124.2zM165.6 51.5H207.2V62.3H165.6zM289.8 51.5H310.7V62.3H289.8zM414 51.5H434.9V62.3H414zM455.4 51.5H476.3V62.3H455.4zM538.2 51.5H559.1V62.3H538.2zM124.2 61.9H290V72.6H124.2zM476.1 61.9H559.1V72.6H476.1zM124.2 72.2H186.5V83H124.2zM496.8 72.2H559.1V83H496.8zM82.8 82.6H103.7V93.3H82.8zM476.1 82.6H497V93.3H476.1zM538.2 82.6H559.1V93.3H538.2zM724.4 82.6H785.3V93.3H724.4zM269.1 92.9H290V103.7H269.1zM662.3 92.9H724.6V103.7H662.3zM393.3 103.3H455.6V114H393.3zM621 103.3H641.8V114H621zM186.3 113.6H207.2V124.4H186.3zM310.5 113.6H331.4V124.4H310.5zM434.7 165.4H517.7V176.1H434.7zM600.3 175.7H641.8V186.5H600.3zM579.6 186.1H641.8V196.8H579.6zM579.6 196.4H621.2V207.2H579.6zM579.6 206.8H600.5V217.5H579.6zM579.6 217.1H621.2V227.9H579.6zM579.6 227.5H600.5V238.2H579.6zM455.4 248.2H497V258.9H455.4zM683 248.2H724.6V258.9H683zM-40 258.5H20.9V269.3H-40zM103.5 258.5H207.2V269.3H103.5zM434.7 258.5H538.4V269.3H434.7zM662.3 258.5H785.3V269.3H662.3zM248.4 268.9H290V279.6H248.4zM310.5 268.9H372.8V279.6H310.5zM393.3 268.9H517.7V279.6H393.3zM558.9 268.9H579.8V279.6H558.9zM641.6 268.9H683.2V279.6H641.6zM600.3 289.6H621.2V300.3H600.3zM82.8 320.6H103.7V331.4H82.8zM289.8 320.6H310.7V331.4H289.8zM351.9 341.3H372.8V352.1H351.9zM496.8 341.3H559.1V352.1H496.8zM579.6 341.3H600.5V352.1H579.6zM414 351.7H476.3V362.4H414zM496.8 351.7H538.4V362.4H496.8z"/>
<path fill="#5d5d5d" d="M372.6 -40.2H559.1V10.5H372.6zM662.3 -40.2H724.6V10.5H662.3zM-40 10.1H103.7V20.9H-40zM124.2 10.1H227.9V20.9H124.2zM248.4 10.1H269.3V20.9H248.4zM310.5 10.1H331.4V20.9H310.5zM310.5 20.5H331.4V31.2H310.5zM496.8 20.5H538.4V31.2H496.8zM124.2 30.8H145.1V41.6H124.2zM207 30.8H248.6V41.6H207zM517.5 30.8H600.5V41.6H517.5zM165.6 41.2H207.2V51.9H165.6zM372.6 41.2H393.5V51.9H372.6zM496.8 41.2H517.7V51.9H496.8zM538.2 41.2H559.1V51.9H538.2zM600.3 41.2H621.2V51.9H600.3zM20.7 51.5H41.6V62.3H20.7zM144.9 51.5H165.8V62.3H144.9zM310.5 51.5H331.4V62.3H310.5zM393.3 51.5H414.2V62.3H393.3zM517.5 51.5H538.4V62.3H517.5zM600.3 51.5H621.2V62.3H600.3zM641.6 51.5H662.5V62.3H641.6zM-40 61.9H20.9V72.6H-40zM289.8 61.9H310.7V72.6H289.8zM-40 72.2H20.9V83H-40zM82.8 72.2H124.4V83H82.8zM289.8 72.2H310.7V83H289.8zM476.1 72.2H497V83H476.1zM558.9 72.2H579.8V83H558.9zM724.4 72.2H785.3V83H724.4zM-40 82.6H41.6V93.3H-40zM289.8 82.6H310.7V93.3H289.8zM558.9 82.6H579.8V93.3H558.9zM703.7 82.6H724.6V93.3H703.7zM289.8 92.9H310.7V103.7H289.8zM434.7 92.9H476.3V103.7H434.7zM558.9 92.9H579.8V103.7H558.9zM641.6 92.9H662.5V103.7H641.6zM269.1 103.3H290V114H269.1zM351.9 103.3H393.5V114H351.9zM558.9 103.3H621.2V114H558.9zM269.1 113.6H310.7V124.4H269.1zM186.3 124H207.2V134.7H186.3zM248.4 124H269.3V134.7H248.4zM227.7 134.3H248.6V145.1H227.7zM207 144.7H227.9V155.4H207zM558.9 165.4H600.5V176.1H558.9zM-40 175.7H20.9V186.5H-40zM558.9 175.7H600.5V186.5H558.9zM289.8 186.1H310.7V196.8H289.8zM20.7 268.9H103.7V279.6H20.7zM227.7 268.9H248.6V279.6H227.7zM517.5 268.9H559.1V279.6H517.5zM579.6 268.9H600.5V279.6H579.6zM683 268.9H703.9V279.6H683zM310.5 279.2H434.9V290H310.5zM641.6 279.2H662.5V290H641.6zM621 289.6H641.8V300.3H621zM62.1 320.6H83V331.4H62.1zM124.2 320.6H186.5V331.4H124.2zM310.5 320.6H331.4V331.4H310.5zM558.9 331H600.5V341.7H558.9zM703.7 331H724.6V341.7H703.7zM414 341.3H455.6V352.1H414zM600.3 341.3H621.2V352.1H600.3zM683 341.3H703.9V352.1H683zM372.6 351.7H414.2V362.4H372.6z"/>
<path fill="#686868" d="M-40 -40.2H372.8V10.5H-40zM724.4 -40.2H785.3V10.5H724.4zM103.5 10.1H124.4V20.9H103.5zM269.1 10.1H310.7V20.9H269.1zM124.2 20.5H310.7V31.2H124.2zM103.5 30.8H124.4V41.6H103.5zM144.9 30.8H207.2V41.6H144.9zM496.8 30.8H517.7V41.6H496.8zM-40 41.2H20.9V51.9H-40zM41.4 41.2H165.8V51.9H41.4zM517.5 41.2H538.4V51.9H517.5zM558.9 41.2H600.5V51.9H558.9zM683 41.2H703.9V51.9H683zM-40 51.5H20.9V62.3H-40zM41.4 51.5H124.4V62.3H41.4zM331.2 51.5H352.1V62.3H331.2zM372.6 51.5H393.5V62.3H372.6zM558.9 51.5H600.5V62.3H558.9zM683 51.5H785.3V62.3H683zM20.7 61.9H124.4V72.6H20.7zM310.5 61.9H331.4V72.6H310.5zM414 61.9H476.3V72.6H414zM558.9 61.9H621.2V72.6H558.9zM683 61.9H785.3V72.6H683zM20.7 72.2H83V83H20.7zM414 72.2H476.3V83H414zM579.6 72.2H621.2V83H579.6zM683 72.2H724.6V83H683zM41.4 82.6H83V93.3H41.4zM414 82.6H476.3V93.3H414zM579.6 82.6H621.2V93.3H579.6zM662.3 82.6H703.9V93.3H662.3zM372.6 92.9H434.9V103.7H372.6zM579.6 92.9H641.8V103.7H579.6zM289.8 103.3H352.1V114H289.8zM248.4 113.6H269.3V124.4H248.4zM207 134.3H227.9V145.1H207zM-40 268.9H20.9V279.6H-40zM103.5 268.9H227.9V279.6H103.5zM703.7 268.9H785.3V279.6H703.7zM144.9 279.2H165.8V290H144.9zM207 279.2H310.7V290H207zM434.7 279.2H579.8V290H434.7zM662.3 279.2H703.9V290H662.3zM248.4 289.6H310.7V300.3H248.4zM393.3 289.6H434.9V300.3H393.3zM496.8 289.6H579.8V300.3H496.8zM641.6 289.6H662.5V300.3H641.6zM579.6 299.9H621.2V310.7H579.6zM41.4 320.6H62.3V331.4H41.4zM621 320.6H641.8V331.4H621zM351.9 331H372.8V341.7H351.9zM517.5 331H559.1V341.7H517.5zM600.3 331H621.2V341.7H600.3zM372.6 341.3H393.5V352.1H372.6zM641.6 341.3H683.2V352.1H641.6z"/>
<path fill="#747474" d="M41.4 20.5H62.3V31.2H41.4zM103.5 20.5H124.4V31.2H103.5zM724.4 20.5H785.3V31.2H724.4zM20.7 30.8H62.3V41.6H20.7zM82.8 30.8H103.7V41.6H82.8zM703.7 30.8H724.6V41.6H703.7zM20.7 41.2H41.6V51.9H20.7zM703.7 41.2H785.3V51.9H703.7zM351.9 51.5H372.8V62.3H351.9zM621 51.5H641.8V62.3H621zM662.3 51.5H683.2V62.3H662.3zM331.2 61.9H352.1V72.6H331.2zM393.3 61.9H414.2V72.6H393.3zM621 61.9H641.8V72.6H621zM310.5 72.2H331.4V83H310.5zM393.3 72.2H414.2V83H393.3zM621 72.2H641.8V83H621zM662.3 72.2H683.2V83H662.3zM310.5 82.6H331.4V93.3H310.5zM393.3 82.6H414.2V93.3H393.3zM621 82.6H662.5V93.3H621zM310.5 92.9H331.4V103.7H310.5zM207 113.6H248.6V124.4H207zM20.7 279.2H145.1V290H20.7zM165.6 279.2H207.2V290H165.6zM579.6 279.2H600.5V290H579.6zM703.7 279.2H724.6V290H703.7zM165.6 289.6H186.5V300.3H165.6zM207 289.6H248.6V300.3H207zM310.5 289.6H393.5V300.3H310.5zM434.7 289.6H497V300.3H434.7zM579.6 289.6H600.5V300.3H579.6zM248.4 299.9H310.7V310.7H248.4zM538.2 299.9H579.8V310.7H538.2zM621 299.9H641.8V310.7H621zM621 310.3H641.8V321H621zM-40 320.6H41.6V331.4H-40zM331.2 320.6H352.1V331.4H331.2zM600.3 320.6H621.2V331.4H600.3zM641.6 320.6H662.5V331.4H641.6zM724.4 320.6H785.3V331.4H724.4zM372.6 331H393.5V341.7H372.6zM455.4 331H517.7V341.7H455.4zM621 331H641.8V341.7H621zM683 331H703.9V341.7H683zM393.3 341.3H414.2V352.1H393.3zM621 341.3H641.8V352.1H621z"/>
<path fill="#808080" d="M20.7 20.5H41.6V31.2H20.7zM62.1 20.5H103.7V31.2H62.1zM-40 30.8H20.9V41.6H-40zM62.1 30.8H83V41.6H62.1zM724.4 30.8H785.3V41.6H724.4zM351.9 61.9H393.5V72.6H351.9zM641.6 61.9H683.2V72.6H641.6zM331.2 72.2H393.5V83H331.2zM641.6 72.2H662.5V83H641.6zM331.2 82.6H393.5V93.3H331.2zM331.2 92.9H372.8V103.7H331.2zM227.7 124H248.6V134.7H227.7zM-40 279.2H20.9V290H-40zM724.4 279.2H785.3V290H724.4zM-40 289.6H41.6V300.3H-40zM82.8 289.6H165.8V300.3H82.8zM186.3 289.6H207.2V300.3H186.3zM662.3 289.6H683.2V300.3H662.3zM724.4 289.6H785.3V300.3H724.4zM-40 299.9H248.6V310.7H-40zM310.5 299.9H538.4V310.7H310.5zM641.6 299.9H662.5V310.7H641.6zM724.4 299.9H785.3V310.7H724.4zM-40 310.3H331.4V321H-40zM372.6 310.3H455.6V321H372.6zM496.8 310.3H621.2V321H496.8zM641.6 310.3H785.3V321H641.6zM351.9 320.6H600.5V331.4H351.9zM662.3 320.6H724.6V331.4H662.3zM393.3 331H455.6V341.7H393.3zM641.6 331H683.2V341.7H641.6z"/>
<path fill="#8b8b8b" d="M-40 20.5H20.9V31.2H-40zM207 124H227.9V134.7H207zM41.4 289.6H83V300.3H41.4zM683 289.6H724.6V300.3H683zM662.3 299.9H724.6V310.7H662.3zM331.2 310.3H372.8V321H331.2zM455.4 310.3H497V321H455.4z"/>
<ellipse cx="216.3" cy="125.2" rx="7.2" ry="6.2" fill="#aeaeae"/><path d="M282.5 193.5L291.8 196.2L300.1 199.3" fill="none" stroke="#808080" stroke-width="7" stroke-linecap="round" stroke-linejoin="round"/>
</g><g filter="url(#ovb)"><path d="M586 171.8L581.9 187.3L583.9 197.6L591.1 207.9L602.5 216.1L611.7 222.3" fill="none" stroke="#94c4df" stroke-width="7" stroke-linecap="round" stroke-linejoin="round"/><path d="M586 171.8L581.9 187.3L583.9 197.6L591.1 207.9L602.5 216.1L611.7 222.3" fill="none" stroke="#6caed6" stroke-width="3.6" stroke-linecap="round" stroke-linejoin="round"/><path d="M586 171.8L581.9 187.3L583.9 197.6L591.1 207.9" fill="none" stroke="#4a98c9" stroke-width="1.8" stroke-linecap="round" stroke-linejoin="round"/><path d="M598.4 166.7L591.8 175.1L586 184.2" fill="none" stroke="#94c4df" stroke-width="5" stroke-linecap="round" stroke-linejoin="round"/><path d="M598.4 166.7L591.8 175.1L586 184.2" fill="none" stroke="#6caed6" stroke-width="2.2" stroke-linecap="round" stroke-linejoin="round"/><path d="M594.2 272.8L590.1 285.1L591.1 294.4L598.4 298.5L606.6 299.5" fill="none" stroke="#94c4df" stroke-width="8" stroke-linecap="round" stroke-linejoin="round"/><path d="M594.2 272.8L590.1 285.1L591.1 294.4L598.4 298.5L606.6 299.5" fill="none" stroke="#6caed6" stroke-width="5" stroke-linecap="round" stroke-linejoin="round"/><path d="M590.1 285.1L591.1 294.4L598.4 298.5" fill="none" stroke="#4a98c9" stroke-width="2.5" stroke-linecap="round" stroke-linejoin="round"/><path d="M602.5 221.3L604.5 235.7L603.5 249.1L606.6 264.5" fill="none" stroke="#e3eef9" stroke-width="6" stroke-linecap="round" stroke-linejoin="round"/><path d="M604 228.1L604.8 239.1" fill="none" stroke="#f7fbff" stroke-width="2.2" stroke-linecap="round" stroke-linejoin="round"/></g>
<use href="#coast" fill="none" stroke="#000" stroke-width="0.85" stroke-linejoin="round"/></g>
<defs><clipPath id="c2"><rect x="0" y="0" width="745.1" height="372.6"/></clipPath><filter id="q2" filterUnits="userSpaceOnUse" x="-40" y="-40" width="825.1" height="452.6" color-interpolation-filters="sRGB"><feTurbulence type="fractalNoise" baseFrequency="0.035 0.05" numOctaves="3" seed="5" result="nz"/><feDisplacementMap in="SourceGraphic" in2="nz" scale="22" xChannelSelector="R" yChannelSelector="G" result="dp"/><feGaussianBlur in="dp" stdDeviation="6 3.5" result="bl"/><feTurbulence type="fractalNoise" baseFrequency="0.09 0.13" numOctaves="2" seed="13" result="n2"/><feColorMatrix in="n2" type="matrix" values="0 0 1 0 0  0 0 1 0 0  0 0 1 0 0  0 0 0 0 1" result="n3"/><feComposite in="bl" in2="n3" operator="arithmetic" k1="0" k2="1" k3="0.0692" k4="-0.0346"/><feComponentTransfer><feFuncR type="discrete" tableValues="0.4039 0.6471 0.7882 0.8941 0.9686 0.9882 0.9686 0.8471 0.6549 0.4196 0.2196 0.1137 0.0196"/><feFuncG type="discrete" tableValues="0.0000 0.0784 0.2784 0.5020 0.7176 0.8745 0.9647 0.9137 0.8157 0.6745 0.5216 0.3725 0.1882"/><feFuncB type="discrete" tableValues="0.1216 0.1608 0.2549 0.4000 0.6000 0.8118 0.9647 0.9451 0.8941 0.8196 0.7373 0.6353 0.3804"/></feComponentTransfer></filter></defs>
<g transform="translate(255.2 1094)" clip-path="url(#c2)"><g filter="url(#q2)" >
<path fill="#141414" d="M621 341.3H641.8V352.1H621z"/>
<path fill="#1d1d1d" d="M641.6 341.3H683.2V352.1H641.6z"/>
<path fill="#272727" d="M351.9 341.3H393.5V352.1H351.9zM600.3 341.3H621.2V352.1H600.3z"/>
<path fill="#313131" d="M144.9 320.6H165.8V331.4H144.9zM703.7 331H724.6V341.7H703.7zM393.3 341.3H434.9V352.1H393.3zM496.8 341.3H517.7V352.1H496.8zM351.9 351.7H414.2V362.4H351.9zM496.8 351.7H538.4V362.4H496.8zM621 351.7H641.8V362.4H621z"/>
<path fill="#3b3b3b" d="M165.6 320.6H186.5V331.4H165.6zM351.9 331H372.8V341.7H351.9zM683 331H703.9V341.7H683zM724.4 331H785.3V341.7H724.4zM517.5 341.3H538.4V352.1H517.5zM579.6 341.3H600.5V352.1H579.6zM683 341.3H703.9V352.1H683zM414 351.7H434.9V362.4H414zM538.2 351.7H559.1V362.4H538.2zM600.3 351.7H621.2V362.4H600.3zM641.6 351.7H662.5V362.4H641.6z"/>
<path fill="#454545" d="M662.3 30.8H683.2V41.6H662.3zM207 113.6H227.9V124.4H207zM207 124H227.9V134.7H207zM-40 320.6H20.9V331.4H-40zM124.2 320.6H145.1V331.4H124.2zM372.6 331H393.5V341.7H372.6zM476.1 331H579.8V341.7H476.1zM662.3 331H683.2V341.7H662.3zM186.3 341.3H207.2V352.1H186.3zM331.2 341.3H352.1V352.1H331.2zM476.1 341.3H497V352.1H476.1zM538.2 341.3H559.1V352.1H538.2zM331.2 351.7H352.1V362.4H331.2zM434.7 351.7H497V362.4H434.7zM662.3 351.7H683.2V362.4H662.3z"/>
<path fill="#4e4e4e" d="M662.3 20.5H683.2V31.2H662.3zM641.6 30.8H662.5V41.6H641.6zM20.7 320.6H41.6V331.4H20.7zM186.3 320.6H207.2V331.4H186.3zM724.4 320.6H785.3V331.4H724.4zM393.3 331H476.3V341.7H393.3zM579.6 331H600.5V341.7H579.6zM621 331H662.5V341.7H621zM62.1 341.3H103.7V352.1H62.1zM434.7 341.3H476.3V352.1H434.7zM558.9 341.3H579.8V352.1H558.9zM703.7 341.3H724.6V352.1H703.7zM517.5 362H538.4V412.8H517.5z"/>
<path fill="#585858" d="M641.6 20.5H662.5V31.2H641.6zM144.9 103.3H165.8V114H144.9zM186.3 113.6H207.2V124.4H186.3zM186.3 124H207.2V134.7H186.3zM-40 206.8H20.9V217.5H-40zM41.4 320.6H83V331.4H41.4zM207 320.6H227.9V331.4H207zM310.5 320.6H331.4V331.4H310.5zM351.9 320.6H372.8V331.4H351.9zM144.9 331H165.8V341.7H144.9zM41.4 341.3H62.3V352.1H41.4zM103.5 341.3H124.4V352.1H103.5zM207 341.3H227.9V352.1H207zM724.4 341.3H785.3V352.1H724.4zM124.2 351.7H165.8V362.4H124.2zM579.6 351.7H600.5V362.4H579.6zM683 351.7H724.6V362.4H683zM496.8 362H517.7V412.8H496.8zM538.2 362H559.1V412.8H538.2z"/>
<path fill="#626262" d="M600.3 30.8H621.2V41.6H600.3zM186.3 103.3H207.2V114H186.3zM186.3 310.3H207.2V321H186.3zM227.7 310.3H248.6V321H227.7zM82.8 320.6H124.4V331.4H82.8zM227.7 320.6H269.3V331.4H227.7zM289.8 320.6H310.7V331.4H289.8zM331.2 320.6H352.1V331.4H331.2zM703.7 320.6H724.6V331.4H703.7zM-40 331H62.3V341.7H-40zM103.5 331H145.1V341.7H103.5zM186.3 331H227.9V341.7H186.3zM331.2 331H352.1V341.7H331.2zM20.7 341.3H41.6V352.1H20.7zM124.2 341.3H186.5V352.1H124.2zM227.7 341.3H248.6V352.1H227.7zM103.5 351.7H124.4V362.4H103.5zM165.6 351.7H186.5V362.4H165.6zM558.9 351.7H579.8V362.4H558.9zM724.4 351.7H785.3V362.4H724.4zM393.3 362H497V412.8H393.3zM621 362H641.8V412.8H621z"/>
<path fill="#6c6c6c" d="M600.3 20.5H641.8V31.2H600.3zM579.6 30.8H600.5V41.6H579.6zM621 30.8H641.8V41.6H621zM724.4 30.8H785.3V41.6H724.4zM621 41.2H641.8V51.9H621zM621 51.5H641.8V62.3H621zM82.8 82.6H103.7V93.3H82.8zM186.3 82.6H207.2V93.3H186.3zM82.8 92.9H124.4V103.7H82.8zM186.3 92.9H207.2V103.7H186.3zM165.6 103.3H186.5V114H165.6zM207 103.3H227.9V114H207zM227.7 113.6H248.6V124.4H227.7zM227.7 124H248.6V134.7H227.7zM558.9 155H579.8V165.8H558.9zM393.3 165.4H497V176.1H393.3zM558.9 165.4H579.8V176.1H558.9zM351.9 175.7H414.2V186.5H351.9zM579.6 175.7H600.5V186.5H579.6zM351.9 186.1H372.8V196.8H351.9zM579.6 196.4H600.5V207.2H579.6zM579.6 206.8H600.5V217.5H579.6zM579.6 217.1H600.5V227.9H579.6zM579.6 227.5H621.2V238.2H579.6zM579.6 237.8H662.5V248.6H579.6zM455.4 248.2H497V258.9H455.4zM558.9 248.2H662.5V258.9H558.9zM455.4 258.5H579.8V269.3H455.4zM124.2 310.3H186.5V321H124.2zM207 310.3H227.9V321H207zM269.1 310.3H290V321H269.1zM269.1 320.6H290V331.4H269.1zM538.2 320.6H559.1V331.4H538.2zM683 320.6H703.9V331.4H683zM62.1 331H103.7V341.7H62.1zM165.6 331H186.5V341.7H165.6zM227.7 331H269.3V341.7H227.7zM310.5 331H331.4V341.7H310.5zM-40 341.3H20.9V352.1H-40zM248.4 341.3H269.3V352.1H248.4zM310.5 341.3H331.4V352.1H310.5zM-40 351.7H20.9V362.4H-40zM82.8 351.7H103.7V362.4H82.8zM186.3 351.7H207.2V362.4H186.3zM289.8 351.7H331.4V362.4H289.8zM-40 362H41.6V412.8H-40zM82.8 362H186.5V412.8H82.8zM248.4 362H393.5V412.8H248.4zM558.9 362H621.2V412.8H558.9zM641.6 362H785.3V412.8H641.6z"/>
<path fill="#767676" d="M641.6 10.1H683.2V20.9H641.6zM579.6 20.5H600.5V31.2H579.6zM683 20.5H703.9V31.2H683zM186.3 30.8H207.2V41.6H186.3zM683 30.8H724.6V41.6H683zM600.3 41.2H621.2V51.9H600.3zM641.6 41.2H662.5V51.9H641.6zM165.6 82.6H186.5V93.3H165.6zM144.9 92.9H186.5V103.7H144.9zM207 92.9H227.9V103.7H207zM227.7 103.3H269.3V114H227.7zM538.2 103.3H559.1V114H538.2zM144.9 113.6H186.5V124.4H144.9zM476.1 113.6H517.7V124.4H476.1zM538.2 113.6H559.1V124.4H538.2zM165.6 124H186.5V134.7H165.6zM186.3 134.3H227.9V145.1H186.3zM476.1 134.3H497V145.1H476.1zM558.9 144.7H579.8V155.4H558.9zM62.1 165.4H83V176.1H62.1zM372.6 165.4H393.5V176.1H372.6zM496.8 165.4H517.7V176.1H496.8zM579.6 165.4H600.5V176.1H579.6zM-40 175.7H20.9V186.5H-40zM414 175.7H434.9V186.5H414zM186.3 186.1H207.2V196.8H186.3zM331.2 186.1H352.1V196.8H331.2zM579.6 186.1H600.5V196.8H579.6zM-40 196.4H20.9V207.2H-40zM144.9 196.4H165.8V207.2H144.9zM20.7 206.8H41.6V217.5H20.7zM600.3 206.8H621.2V217.5H600.3zM20.7 217.1H41.6V227.9H20.7zM621 217.1H641.8V227.9H621zM621 227.5H641.8V238.2H621zM-40 237.8H20.9V248.6H-40zM455.4 237.8H476.3V248.6H455.4zM558.9 237.8H579.8V248.6H558.9zM-40 248.2H20.9V258.9H-40zM434.7 248.2H455.6V258.9H434.7zM496.8 248.2H517.7V258.9H496.8zM683 248.2H703.9V258.9H683zM434.7 258.5H455.6V269.3H434.7zM579.6 258.5H641.8V269.3H579.6zM621 268.9H641.8V279.6H621zM351.9 279.2H372.8V290H351.9zM621 279.2H641.8V290H621zM103.5 310.3H124.4V321H103.5zM248.4 310.3H269.3V321H248.4zM289.8 310.3H331.4V321H289.8zM372.6 320.6H538.4V331.4H372.6zM558.9 320.6H600.5V331.4H558.9zM621 320.6H683.2V331.4H621zM269.1 331H290V341.7H269.1zM600.3 331H621.2V341.7H600.3zM269.1 341.3H290V352.1H269.1zM20.7 351.7H83V362.4H20.7zM207 351.7H290V362.4H207zM41.4 362H83V412.8H41.4zM186.3 362H248.6V412.8H186.3z"/>
<path fill="#808080" d="M144.9 20.5H186.5V31.2H144.9zM703.7 20.5H724.6V31.2H703.7zM144.9 30.8H186.5V41.6H144.9zM207 30.8H227.9V41.6H207zM558.9 30.8H579.8V41.6H558.9zM144.9 41.2H227.9V51.9H144.9zM248.4 41.2H269.3V51.9H248.4zM476.1 41.2H497V51.9H476.1zM579.6 41.2H600.5V51.9H579.6zM662.3 41.2H683.2V51.9H662.3zM207 51.5H269.3V62.3H207zM476.1 51.5H517.7V62.3H476.1zM600.3 51.5H621.2V62.3H600.3zM641.6 51.5H662.5V62.3H641.6zM-40 61.9H83V72.6H-40zM207 61.9H248.6V72.6H207zM289.8 61.9H310.7V72.6H289.8zM434.7 61.9H455.6V72.6H434.7zM579.6 61.9H600.5V72.6H579.6zM621 61.9H641.8V72.6H621zM-40 72.2H227.9V83H-40zM248.4 72.2H269.3V83H248.4zM455.4 72.2H476.3V83H455.4zM517.5 72.2H538.4V83H517.5zM579.6 72.2H600.5V83H579.6zM62.1 82.6H83V93.3H62.1zM103.5 82.6H165.8V93.3H103.5zM207 82.6H269.3V93.3H207zM455.4 82.6H476.3V93.3H455.4zM558.9 82.6H579.8V93.3H558.9zM621 82.6H641.8V93.3H621zM724.4 82.6H785.3V93.3H724.4zM-40 92.9H20.9V103.7H-40zM41.4 92.9H83V103.7H41.4zM124.2 92.9H145.1V103.7H124.2zM227.7 92.9H269.3V103.7H227.7zM517.5 92.9H579.8V103.7H517.5zM-40 103.3H62.3V114H-40zM82.8 103.3H145.1V114H82.8zM455.4 103.3H538.4V114H455.4zM558.9 103.3H600.5V114H558.9zM724.4 103.3H785.3V114H724.4zM-40 113.6H145.1V124.4H-40zM248.4 113.6H269.3V124.4H248.4zM455.4 113.6H476.3V124.4H455.4zM517.5 113.6H538.4V124.4H517.5zM558.9 113.6H579.8V124.4H558.9zM703.7 113.6H785.3V124.4H703.7zM-40 124H165.8V134.7H-40zM248.4 124H269.3V134.7H248.4zM455.4 124H785.3V134.7H455.4zM-40 134.3H186.5V145.1H-40zM227.7 134.3H269.3V145.1H227.7zM455.4 134.3H476.3V145.1H455.4zM496.8 134.3H517.7V145.1H496.8zM538.2 134.3H785.3V145.1H538.2zM-40 144.7H124.4V155.4H-40zM144.9 144.7H207.2V155.4H144.9zM248.4 144.7H269.3V155.4H248.4zM393.3 144.7H414.2V155.4H393.3zM434.7 144.7H517.7V155.4H434.7zM538.2 144.7H559.1V155.4H538.2zM579.6 144.7H785.3V155.4H579.6zM-40 155H207.2V165.8H-40zM269.1 155H290V165.8H269.1zM331.2 155H434.9V165.8H331.2zM517.5 155H559.1V165.8H517.5zM579.6 155H785.3V165.8H579.6zM82.8 165.4H165.8V176.1H82.8zM186.3 165.4H227.9V176.1H186.3zM310.5 165.4H372.8V176.1H310.5zM517.5 165.4H559.1V176.1H517.5zM600.3 165.4H621.2V176.1H600.3zM641.6 165.4H703.9V176.1H641.6zM62.1 175.7H103.7V186.5H62.1zM124.2 175.7H207.2V186.5H124.2zM310.5 175.7H352.1V186.5H310.5zM434.7 175.7H455.6V186.5H434.7zM496.8 175.7H538.4V186.5H496.8zM641.6 175.7H703.9V186.5H641.6zM724.4 175.7H785.3V186.5H724.4zM-40 186.1H20.9V196.8H-40zM62.1 186.1H83V196.8H62.1zM124.2 186.1H186.5V196.8H124.2zM310.5 186.1H331.4V196.8H310.5zM372.6 186.1H434.9V196.8H372.6zM600.3 186.1H621.2V196.8H600.3zM41.4 196.4H145.1V207.2H41.4zM165.6 196.4H207.2V207.2H165.6zM331.2 196.4H455.6V207.2H331.2zM538.2 196.4H559.1V207.2H538.2zM600.3 196.4H641.8V207.2H600.3zM82.8 206.8H165.8V217.5H82.8zM186.3 206.8H476.3V217.5H186.3zM621 206.8H641.8V217.5H621zM703.7 206.8H785.3V217.5H703.7zM41.4 217.1H145.1V227.9H41.4zM227.7 217.1H497V227.9H227.7zM600.3 217.1H621.2V227.9H600.3zM20.7 227.5H186.5V238.2H20.7zM207 227.5H517.7V238.2H207zM538.2 227.5H579.8V238.2H538.2zM641.6 227.5H662.5V238.2H641.6zM724.4 227.5H785.3V238.2H724.4zM20.7 237.8H41.6V248.6H20.7zM62.1 237.8H455.6V248.6H62.1zM476.1 237.8H559.1V248.6H476.1zM662.3 237.8H785.3V248.6H662.3zM20.7 248.2H434.9V258.9H20.7zM517.5 248.2H559.1V258.9H517.5zM662.3 248.2H683.2V258.9H662.3zM703.7 248.2H785.3V258.9H703.7zM-40 258.5H41.6V269.3H-40zM103.5 258.5H290V269.3H103.5zM310.5 258.5H434.9V269.3H310.5zM641.6 258.5H785.3V269.3H641.6zM-40 268.9H20.9V279.6H-40zM248.4 268.9H290V279.6H248.4zM310.5 268.9H331.4V279.6H310.5zM372.6 268.9H579.8V279.6H372.6zM600.3 268.9H621.2V279.6H600.3zM641.6 268.9H724.6V279.6H641.6zM-40 279.2H124.4V290H-40zM248.4 279.2H352.1V290H248.4zM372.6 279.2H414.2V290H372.6zM517.5 279.2H579.8V290H517.5zM600.3 279.2H621.2V290H600.3zM641.6 279.2H724.6V290H641.6zM-40 289.6H20.9V300.3H-40zM41.4 289.6H145.1V300.3H41.4zM227.7 289.6H393.5V300.3H227.7zM621 289.6H662.5V300.3H621zM683 289.6H785.3V300.3H683zM41.4 299.9H186.5V310.7H41.4zM207 299.9H372.8V310.7H207zM621 299.9H683.2V310.7H621zM703.7 299.9H724.6V310.7H703.7zM20.7 310.3H103.7V321H20.7zM331.2 310.3H372.8V321H331.2zM579.6 310.3H785.3V321H579.6zM600.3 320.6H621.2V331.4H600.3zM289.8 331H310.7V341.7H289.8zM289.8 341.3H310.7V352.1H289.8z"/>
<path fill="#898989" d="M621 10.1H641.8V20.9H621zM683 10.1H703.9V20.9H683zM-40 20.5H20.9V31.2H-40zM124.2 20.5H145.1V31.2H124.2zM186.3 20.5H207.2V31.2H186.3zM558.9 20.5H579.8V31.2H558.9zM724.4 20.5H785.3V31.2H724.4zM-40 30.8H20.9V41.6H-40zM124.2 30.8H145.1V41.6H124.2zM227.7 30.8H310.7V41.6H227.7zM-40 41.2H20.9V51.9H-40zM227.7 41.2H248.6V51.9H227.7zM269.1 41.2H310.7V51.9H269.1zM414 41.2H434.9V51.9H414zM455.4 41.2H476.3V51.9H455.4zM496.8 41.2H579.8V51.9H496.8zM41.4 51.5H62.3V62.3H41.4zM186.3 51.5H207.2V62.3H186.3zM269.1 51.5H290V62.3H269.1zM579.6 51.5H600.5V62.3H579.6zM82.8 61.9H207.2V72.6H82.8zM248.4 61.9H290V72.6H248.4zM455.4 61.9H476.3V72.6H455.4zM496.8 61.9H517.7V72.6H496.8zM600.3 61.9H621.2V72.6H600.3zM227.7 72.2H248.6V83H227.7zM434.7 72.2H455.6V83H434.7zM496.8 72.2H517.7V83H496.8zM558.9 72.2H579.8V83H558.9zM621 72.2H641.8V83H621zM724.4 72.2H785.3V83H724.4zM41.4 82.6H62.3V93.3H41.4zM331.2 82.6H372.8V93.3H331.2zM434.7 82.6H455.6V93.3H434.7zM517.5 82.6H559.1V93.3H517.5zM579.6 82.6H621.2V93.3H579.6zM20.7 92.9H41.6V103.7H20.7zM331.2 92.9H372.8V103.7H331.2zM455.4 92.9H497V103.7H455.4zM579.6 92.9H600.5V103.7H579.6zM62.1 103.3H83V114H62.1zM434.7 103.3H455.6V114H434.7zM703.7 103.3H724.6V114H703.7zM434.7 113.6H455.6V124.4H434.7zM579.6 113.6H662.5V124.4H579.6zM683 113.6H703.9V124.4H683zM269.1 124H331.4V134.7H269.1zM434.7 124H455.6V134.7H434.7zM269.1 134.3H290V145.1H269.1zM434.7 134.3H455.6V145.1H434.7zM517.5 134.3H538.4V145.1H517.5zM124.2 144.7H145.1V155.4H124.2zM227.7 144.7H248.6V155.4H227.7zM269.1 144.7H290V155.4H269.1zM331.2 144.7H393.5V155.4H331.2zM414 144.7H434.9V155.4H414zM517.5 144.7H538.4V155.4H517.5zM227.7 155H269.3V165.8H227.7zM289.8 155H331.4V165.8H289.8zM434.7 155H455.6V165.8H434.7zM496.8 155H517.7V165.8H496.8zM41.4 165.4H62.3V176.1H41.4zM165.6 165.4H186.5V176.1H165.6zM289.8 165.4H310.7V176.1H289.8zM621 165.4H641.8V176.1H621zM703.7 165.4H724.6V176.1H703.7zM103.5 175.7H124.4V186.5H103.5zM207 175.7H227.9V186.5H207zM455.4 175.7H497V186.5H455.4zM538.2 175.7H579.8V186.5H538.2zM600.3 175.7H621.2V186.5H600.3zM703.7 175.7H724.6V186.5H703.7zM207 186.1H227.9V196.8H207zM434.7 186.1H455.6V196.8H434.7zM558.9 186.1H579.8V196.8H558.9zM621 186.1H641.8V196.8H621zM20.7 196.4H41.6V207.2H20.7zM207 196.4H248.6V207.2H207zM310.5 196.4H331.4V207.2H310.5zM455.4 196.4H476.3V207.2H455.4zM517.5 196.4H538.4V207.2H517.5zM558.9 196.4H579.8V207.2H558.9zM703.7 196.4H785.3V207.2H703.7zM41.4 206.8H83V217.5H41.4zM165.6 206.8H186.5V217.5H165.6zM476.1 206.8H497V217.5H476.1zM517.5 206.8H538.4V217.5H517.5zM641.6 206.8H662.5V217.5H641.6zM-40 217.1H20.9V227.9H-40zM144.9 217.1H165.8V227.9H144.9zM207 217.1H227.9V227.9H207zM558.9 217.1H579.8V227.9H558.9zM641.6 217.1H683.2V227.9H641.6zM-40 227.5H20.9V238.2H-40zM186.3 227.5H207.2V238.2H186.3zM517.5 227.5H538.4V238.2H517.5zM662.3 227.5H724.6V238.2H662.3zM41.4 237.8H62.3V248.6H41.4zM41.4 258.5H103.7V269.3H41.4zM289.8 258.5H310.7V269.3H289.8zM20.7 268.9H41.6V279.6H20.7zM82.8 268.9H186.5V279.6H82.8zM331.2 268.9H352.1V279.6H331.2zM724.4 268.9H785.3V279.6H724.4zM124.2 279.2H145.1V290H124.2zM165.6 279.2H186.5V290H165.6zM227.7 279.2H248.6V290H227.7zM496.8 279.2H517.7V290H496.8zM724.4 279.2H785.3V290H724.4zM20.7 289.6H41.6V300.3H20.7zM165.6 289.6H186.5V300.3H165.6zM207 289.6H227.9V300.3H207zM558.9 289.6H579.8V300.3H558.9zM662.3 289.6H683.2V300.3H662.3zM20.7 299.9H41.6V310.7H20.7zM186.3 299.9H207.2V310.7H186.3zM600.3 299.9H621.2V310.7H600.3zM683 299.9H703.9V310.7H683zM724.4 299.9H785.3V310.7H724.4zM-40 310.3H20.9V321H-40zM455.4 310.3H579.8V321H455.4z"/>
<path fill="#939393" d="M62.1 20.5H83V31.2H62.1zM207 20.5H248.6V31.2H207zM517.5 20.5H559.1V31.2H517.5zM41.4 30.8H124.4V41.6H41.4zM310.5 30.8H331.4V41.6H310.5zM455.4 30.8H476.3V41.6H455.4zM496.8 30.8H559.1V41.6H496.8zM62.1 41.2H145.1V51.9H62.1zM310.5 41.2H331.4V51.9H310.5zM393.3 41.2H414.2V51.9H393.3zM724.4 41.2H785.3V51.9H724.4zM-40 51.5H41.6V62.3H-40zM62.1 51.5H124.4V62.3H62.1zM144.9 51.5H186.5V62.3H144.9zM289.8 51.5H310.7V62.3H289.8zM393.3 51.5H434.9V62.3H393.3zM538.2 51.5H559.1V62.3H538.2zM310.5 61.9H331.4V72.6H310.5zM414 61.9H434.9V72.6H414zM538.2 61.9H559.1V72.6H538.2zM641.6 61.9H662.5V72.6H641.6zM724.4 61.9H785.3V72.6H724.4zM289.8 72.2H310.7V83H289.8zM331.2 72.2H352.1V83H331.2zM538.2 72.2H559.1V83H538.2zM600.3 72.2H621.2V83H600.3zM-40 82.6H41.6V93.3H-40zM372.6 82.6H434.9V93.3H372.6zM496.8 82.6H517.7V93.3H496.8zM703.7 82.6H724.6V93.3H703.7zM372.6 92.9H455.6V103.7H372.6zM496.8 92.9H517.7V103.7H496.8zM703.7 92.9H785.3V103.7H703.7zM393.3 103.3H434.9V114H393.3zM269.1 113.6H290V124.4H269.1zM351.9 113.6H434.9V124.4H351.9zM662.3 113.6H683.2V124.4H662.3zM331.2 124H434.9V134.7H331.2zM289.8 134.3H434.9V145.1H289.8zM289.8 144.7H331.4V155.4H289.8zM455.4 155H497V165.8H455.4zM-40 165.4H20.9V176.1H-40zM724.4 165.4H785.3V176.1H724.4zM103.5 186.1H124.4V196.8H103.5zM455.4 186.1H476.3V196.8H455.4zM662.3 186.1H683.2V196.8H662.3zM724.4 186.1H785.3V196.8H724.4zM248.4 196.4H269.3V207.2H248.4zM476.1 196.4H497V207.2H476.1zM641.6 196.4H662.5V207.2H641.6zM496.8 206.8H517.7V217.5H496.8zM538.2 206.8H579.8V217.5H538.2zM683 206.8H703.9V217.5H683zM165.6 217.1H186.5V227.9H165.6zM538.2 217.1H559.1V227.9H538.2zM724.4 217.1H785.3V227.9H724.4zM41.4 268.9H83V279.6H41.4zM186.3 268.9H248.6V279.6H186.3zM289.8 268.9H310.7V279.6H289.8zM351.9 268.9H372.8V279.6H351.9zM579.6 268.9H600.5V279.6H579.6zM144.9 279.2H165.8V290H144.9zM186.3 279.2H227.9V290H186.3zM414 279.2H434.9V290H414zM455.4 279.2H497V290H455.4zM579.6 279.2H600.5V290H579.6zM144.9 289.6H165.8V300.3H144.9zM186.3 289.6H207.2V300.3H186.3zM393.3 289.6H414.2V300.3H393.3zM476.1 289.6H559.1V300.3H476.1zM579.6 289.6H621.2V300.3H579.6zM-40 299.9H20.9V310.7H-40zM372.6 299.9H414.2V310.7H372.6zM476.1 299.9H600.5V310.7H476.1zM372.6 310.3H455.6V321H372.6z"/>
<path fill="#9d9d9d" d="M621 -40.2H641.8V10.5H621zM41.4 20.5H62.3V31.2H41.4zM103.5 20.5H124.4V31.2H103.5zM248.4 20.5H310.7V31.2H248.4zM496.8 20.5H517.7V31.2H496.8zM20.7 30.8H41.6V41.6H20.7zM414 30.8H455.6V41.6H414zM476.1 30.8H497V41.6H476.1zM20.7 41.2H62.3V51.9H20.7zM331.2 41.2H352.1V51.9H331.2zM434.7 41.2H455.6V51.9H434.7zM124.2 51.5H145.1V62.3H124.2zM310.5 51.5H331.4V62.3H310.5zM455.4 51.5H476.3V62.3H455.4zM517.5 51.5H538.4V62.3H517.5zM558.9 51.5H579.8V62.3H558.9zM393.3 61.9H414.2V72.6H393.3zM476.1 61.9H497V72.6H476.1zM517.5 61.9H538.4V72.6H517.5zM558.9 61.9H579.8V72.6H558.9zM269.1 72.2H290V83H269.1zM310.5 72.2H331.4V83H310.5zM351.9 72.2H372.8V83H351.9zM289.8 82.6H331.4V93.3H289.8zM641.6 82.6H662.5V93.3H641.6zM269.1 92.9H290V103.7H269.1zM310.5 92.9H331.4V103.7H310.5zM600.3 92.9H621.2V103.7H600.3zM269.1 103.3H290V114H269.1zM351.9 103.3H393.5V114H351.9zM600.3 103.3H621.2V114H600.3zM331.2 113.6H352.1V124.4H331.2zM207 155H227.9V165.8H207zM20.7 165.4H41.6V176.1H20.7zM227.7 165.4H248.6V176.1H227.7zM269.1 165.4H290V176.1H269.1zM289.8 175.7H310.7V186.5H289.8zM621 175.7H641.8V186.5H621zM82.8 186.1H103.7V196.8H82.8zM538.2 186.1H559.1V196.8H538.2zM641.6 186.1H662.5V196.8H641.6zM269.1 196.4H290V207.2H269.1zM496.8 196.4H517.7V207.2H496.8zM662.3 196.4H703.9V207.2H662.3zM662.3 206.8H683.2V217.5H662.3zM186.3 217.1H207.2V227.9H186.3zM496.8 217.1H517.7V227.9H496.8zM683 217.1H724.6V227.9H683zM434.7 279.2H455.6V290H434.7zM414 289.6H434.9V300.3H414zM455.4 299.9H476.3V310.7H455.4z"/>
<path fill="#a7a7a7" d="M641.6 -40.2H662.5V10.5H641.6zM600.3 10.1H621.2V20.9H600.3zM703.7 10.1H724.6V20.9H703.7zM20.7 20.5H41.6V31.2H20.7zM82.8 20.5H103.7V31.2H82.8zM310.5 20.5H372.8V31.2H310.5zM476.1 20.5H497V31.2H476.1zM331.2 30.8H352.1V41.6H331.2zM372.6 30.8H414.2V41.6H372.6zM372.6 41.2H393.5V51.9H372.6zM683 41.2H703.9V51.9H683zM434.7 51.5H455.6V62.3H434.7zM662.3 51.5H683.2V62.3H662.3zM724.4 51.5H785.3V62.3H724.4zM703.7 61.9H724.6V72.6H703.7zM372.6 72.2H434.9V83H372.6zM641.6 72.2H662.5V83H641.6zM703.7 72.2H724.6V83H703.7zM269.1 82.6H290V93.3H269.1zM476.1 82.6H497V93.3H476.1zM289.8 103.3H352.1V114H289.8zM641.6 103.3H703.9V114H641.6zM289.8 113.6H331.4V124.4H289.8zM207 144.7H227.9V155.4H207zM248.4 165.4H269.3V176.1H248.4zM269.1 175.7H290V186.5H269.1zM227.7 186.1H248.6V196.8H227.7zM476.1 186.1H538.4V196.8H476.1zM683 186.1H724.6V196.8H683zM517.5 217.1H538.4V227.9H517.5zM434.7 289.6H476.3V300.3H434.7zM414 299.9H455.6V310.7H414z"/>
<path fill="#b1b1b1" d="M579.6 -40.2H621.2V10.5H579.6zM662.3 -40.2H683.2V10.5H662.3zM144.9 10.1H186.5V20.9H144.9zM517.5 10.1H559.1V20.9H517.5zM724.4 10.1H785.3V20.9H724.4zM372.6 20.5H393.5V31.2H372.6zM455.4 20.5H476.3V31.2H455.4zM351.9 30.8H372.8V41.6H351.9zM351.9 41.2H372.8V51.9H351.9zM331.2 51.5H352.1V62.3H331.2zM372.6 51.5H393.5V62.3H372.6zM351.9 61.9H393.5V72.6H351.9zM662.3 61.9H683.2V72.6H662.3zM662.3 82.6H703.9V93.3H662.3zM289.8 92.9H310.7V103.7H289.8zM621 92.9H641.8V103.7H621zM683 92.9H703.9V103.7H683zM621 103.3H641.8V114H621zM20.7 175.7H62.3V186.5H20.7zM248.4 175.7H269.3V186.5H248.4zM20.7 186.1H62.3V196.8H20.7zM248.4 186.1H290V196.8H248.4zM289.8 196.4H310.7V207.2H289.8z"/>
<path fill="#bababa" d="M558.9 -40.2H579.8V10.5H558.9zM683 -40.2H724.6V10.5H683zM496.8 10.1H517.7V20.9H496.8zM558.9 10.1H579.8V20.9H558.9zM393.3 20.5H455.6V31.2H393.3zM703.7 41.2H724.6V51.9H703.7zM351.9 51.5H372.8V62.3H351.9zM703.7 51.5H724.6V62.3H703.7zM331.2 61.9H352.1V72.6H331.2zM683 61.9H703.9V72.6H683zM476.1 72.2H497V83H476.1zM662.3 72.2H703.9V83H662.3zM641.6 92.9H683.2V103.7H641.6zM227.7 175.7H248.6V186.5H227.7zM289.8 186.1H310.7V196.8H289.8z"/>
<path fill="#c4c4c4" d="M455.4 -40.2H559.1V10.5H455.4zM724.4 -40.2H785.3V10.5H724.4zM-40 10.1H145.1V20.9H-40zM186.3 10.1H372.8V20.9H186.3zM476.1 10.1H497V20.9H476.1zM579.6 10.1H600.5V20.9H579.6zM683 51.5H703.9V62.3H683z"/>
<path fill="#cecece" d="M-40 -40.2H455.6V10.5H-40zM372.6 10.1H393.5V20.9H372.6zM434.7 10.1H476.3V20.9H434.7z"/>
<path fill="#d8d8d8" d="M393.3 10.1H434.9V20.9H393.3z"/>
<path d="M615.8 225.6L618.9 242.2L622 256.7" fill="none" stroke="#4e4e4e" stroke-width="12" stroke-linecap="round" stroke-linejoin="round"/><ellipse cx="327" cy="73.5" rx="3.7" ry="4.6" fill="#e2e2e2"/><ellipse cx="216.3" cy="125.2" rx="3.9" ry="3.9" fill="#272727"/><ellipse cx="217.3" cy="154.2" rx="5.2" ry="5.2" fill="#bababa"/><ellipse cx="237" cy="184.2" rx="7.2" ry="5.2" fill="#cecece"/><path d="M283.6 194.2L291.8 196.6L300.1 199.7" fill="none" stroke="#e2e2e2" stroke-width="7" stroke-linecap="round" stroke-linejoin="round"/><ellipse cx="27.9" cy="189.4" rx="4.1" ry="4.1" fill="#cecece"/><ellipse cx="49.7" cy="190.4" rx="6.2" ry="4.1" fill="#bababa"/><path d="M20.7 209.1L25.9 219.4" fill="none" stroke="#313131" stroke-width="7" stroke-linecap="round" stroke-linejoin="round"/><ellipse cx="93.1" cy="98.3" rx="6.2" ry="3.1" fill="#454545"/><path d="M0 329.7L20.7 330.1L41.4 330.1L64.2 329.1L80.7 328.7L93.1 325.6L109.7 322.1L124.2 325L142.8 326" fill="none" stroke="#1d1d1d" stroke-width="5" stroke-linecap="round" stroke-linejoin="round"/><path d="M153.2 330.1L169.7 325L186.3 323.9L207 323.9L227.7 322.9L248.4 323.9L269.1 322.9L289.8 323.5" fill="none" stroke="#313131" stroke-width="5" stroke-linecap="round" stroke-linejoin="round"/><ellipse cx="706.8" cy="51.7" rx="6.2" ry="2.5" fill="#d8d8d8"/><ellipse cx="303.2" cy="273.2" rx="3.1" ry="3.1" fill="#bababa"/><ellipse cx="14.5" cy="60" rx="3.1" ry="3.1" fill="#bababa"/>
</g><g filter="url(#ovb)"><path d="M-0.2 328L29.1 326.5L58.3 328.8L87.6 325.8L111 322L131.5 323L143.2 329.5L154.9 326.5L175.3 322L204.6 320.6L233.8 321.2L263.1 322L292.4 323.5L321.6 326.5" fill="none" stroke="#f7b799" stroke-width="6" stroke-linecap="round" stroke-linejoin="round"/><path d="M-0.2 328L29.1 326.5L58.3 328.8L87.6 325.8L111 322L131.5 323L143.2 329.5L154.9 326.5L175.3 322L204.6 320.6L233.8 321.2L263.1 322L292.4 323.5L321.6 326.5" fill="none" stroke="#e48066" stroke-width="4" stroke-linecap="round" stroke-linejoin="round"/><path d="M-0.2 328L29.1 326.5L58.3 328.8L87.6 325.8L111 322L131.5 323L143.2 329.5L154.9 326.5L175.3 322L204.6 320.6L233.8 321.2L263.1 322" fill="none" stroke="#c94741" stroke-width="2.2" stroke-linecap="round" stroke-linejoin="round"/><path d="M111 322L131.5 323L143.2 329.5L154.9 326.5" fill="none" stroke="#a51429" stroke-width="1.5" stroke-linecap="round" stroke-linejoin="round"/><path d="M175.3 322L204.6 320.6L233.8 321.2" fill="none" stroke="#a51429" stroke-width="1.3" stroke-linecap="round" stroke-linejoin="round"/><path d="M26.1 341.1L72.9 347L116.8 352.8L151.9 354.2L187 349.8L204.6 344L192.9 339.6L163.6 344" fill="none" stroke="#f7b799" stroke-width="6" stroke-linecap="round" stroke-linejoin="round"/><path d="M26.1 341.1L72.9 347L116.8 352.8L151.9 354.2L187 349.8L204.6 344L192.9 339.6L163.6 344" fill="none" stroke="#e48066" stroke-width="3.6" stroke-linecap="round" stroke-linejoin="round"/><path d="M72.9 347L116.8 352.8L151.9 354.2L187 349.8L204.6 344" fill="none" stroke="#c94741" stroke-width="1.8" stroke-linecap="round" stroke-linejoin="round"/><path d="M598.1 166.6L593.3 176.3L586 186L583.6 197L587.2 206.6L595.7 214L607.8 218.8L612.7 224.8L610.8 243" fill="none" stroke="#fcdfcf" stroke-width="7" stroke-linecap="round" stroke-linejoin="round"/><path d="M598.1 166.6L593.3 176.3L586 186L583.6 197L587.2 206.6L595.7 214L607.8 218.8L612.7 224.8L610.8 243" fill="none" stroke="#f7b799" stroke-width="4.5" stroke-linecap="round" stroke-linejoin="round"/><path d="M598.1 166.6L593.3 176.3L586 186L583.6 197L587.2 206.6L595.7 214L607.8 218.8L612.7 224.8L610.8 243" fill="none" stroke="#e48066" stroke-width="2.6" stroke-linecap="round" stroke-linejoin="round"/><path d="M593.3 176.3L586 186L583.6 197L587.2 206.6" fill="none" stroke="#a51429" stroke-width="1.6" stroke-linecap="round" stroke-linejoin="round"/><path d="M598.1 235.8L596.3 246.6L595.7 252.8" fill="none" stroke="#f7b799" stroke-width="4.5" stroke-linecap="round" stroke-linejoin="round"/><path d="M598.1 235.8L596.3 246.6L595.7 252.8" fill="none" stroke="#c94741" stroke-width="3" stroke-linecap="round" stroke-linejoin="round"/><path d="M598.1 235.8L596.3 246.6L595.7 252.8" fill="none" stroke="#a51429" stroke-width="1.6" stroke-linecap="round" stroke-linejoin="round"/><path d="M598.1 268.5L596.9 279.3L594.5 289L601.8 296.3L609 300" fill="none" stroke="#a7d0e4" stroke-width="10" stroke-linecap="round" stroke-linejoin="round"/><path d="M598.1 268.5L596.9 279.3L594.5 289L601.8 296.3L609 300" fill="none" stroke="#6bacd1" stroke-width="7.5" stroke-linecap="round" stroke-linejoin="round"/><path d="M598.1 268.5L596.9 279.3L594.5 289L601.8 296.3L609 300" fill="none" stroke="#3885bc" stroke-width="5.5" stroke-linecap="round" stroke-linejoin="round"/><path d="M598.1 268.5L596.9 279.3L594.5 289L601.8 296.3L609 300" fill="none" stroke="#1d5fa2" stroke-width="3.8" stroke-linecap="round" stroke-linejoin="round"/><path d="M598.1 268.5L596.9 279.3L594.5 289" fill="none" stroke="#053061" stroke-width="2" stroke-linecap="round" stroke-linejoin="round"/><path d="M595.8 216L602.8 222" fill="none" stroke="#a7d0e4" stroke-width="9" stroke-linecap="round" stroke-linejoin="round"/><path d="M595.8 216L602.8 222" fill="none" stroke="#6bacd1" stroke-width="6" stroke-linecap="round" stroke-linejoin="round"/><path d="M595.8 216L602.8 222" fill="none" stroke="#3885bc" stroke-width="3.2" stroke-linecap="round" stroke-linejoin="round"/><path d="M563 149.6L572.7 161.8L580 169" fill="none" stroke="#fcdfcf" stroke-width="6" stroke-linecap="round" stroke-linejoin="round"/><path d="M563 149.6L572.7 161.8L580 169" fill="none" stroke="#f7b799" stroke-width="3" stroke-linecap="round" stroke-linejoin="round"/><path d="M628.4 178.8L645.4 190.8L657.5 195.8" fill="none" stroke="#d8e9f1" stroke-width="8" stroke-linecap="round" stroke-linejoin="round"/><path d="M628.4 178.8L645.4 190.8L657.5 195.8" fill="none" stroke="#a7d0e4" stroke-width="5" stroke-linecap="round" stroke-linejoin="round"/><path d="M628.4 178.8L645.4 190.8L657.5 195.8" fill="none" stroke="#6bacd1" stroke-width="2.4" stroke-linecap="round" stroke-linejoin="round"/><path d="M483.3 72L489.8 81L494.8 90L496.8 97" fill="none" stroke="#a7d0e4" stroke-width="9" stroke-linecap="round" stroke-linejoin="round"/><path d="M483.3 72L489.8 81L494.8 90L496.8 97" fill="none" stroke="#6bacd1" stroke-width="6" stroke-linecap="round" stroke-linejoin="round"/><path d="M489.8 81L494.8 90" fill="none" stroke="#3885bc" stroke-width="3.5" stroke-linecap="round" stroke-linejoin="round"/><path d="M357.3 271L350.8 278.5L345.8 281.5" fill="none" stroke="#a7d0e4" stroke-width="7" stroke-linecap="round" stroke-linejoin="round"/><path d="M357.3 271L350.8 278.5L345.8 281.5" fill="none" stroke="#6bacd1" stroke-width="4" stroke-linecap="round" stroke-linejoin="round"/><path d="M291.8 98L288.8 107L279.8 114" fill="none" stroke="#a7d0e4" stroke-width="7" stroke-linecap="round" stroke-linejoin="round"/><path d="M291.8 98L288.8 107L279.8 114" fill="none" stroke="#6bacd1" stroke-width="4" stroke-linecap="round" stroke-linejoin="round"/></g>
<use href="#coast" fill="none" stroke="#000" stroke-width="0.85" stroke-linejoin="round"/></g>
<path d="M255.18 526.35v7.29M255.18 526.35h-7.29M379.37 526.35v7.29M255.18 464.25h-7.29M503.56 526.35v7.29M255.18 402.16h-7.29M627.75 526.35v7.29M255.18 340.07h-7.29M751.94 526.35v7.29M255.18 277.97h-7.29M876.13 526.35v7.29M255.18 215.87h-7.29M1000.3 526.35v7.29M255.18 153.78h-7.29" stroke="#000" stroke-width="2.08" fill="none"/>
<rect x="255.18" y="153.78" width="745.14" height="372.57" fill="none" stroke="#000" stroke-width="1.667"/>
<path d="M255.18 996.44v7.29M255.18 996.44h-7.29M379.37 996.44v7.29M255.18 934.35h-7.29M503.56 996.44v7.29M255.18 872.25h-7.29M627.75 996.44v7.29M255.18 810.16h-7.29M751.94 996.44v7.29M255.18 748.06h-7.29M876.13 996.44v7.29M255.18 685.96h-7.29M1000.3 996.44v7.29M255.18 623.87h-7.29" stroke="#000" stroke-width="2.08" fill="none"/>
<rect x="255.18" y="623.87" width="745.14" height="372.57" fill="none" stroke="#000" stroke-width="1.667"/>
<path d="M255.18 1466.52v7.29M255.18 1466.52h-7.29M379.37 1466.52v7.29M255.18 1404.42h-7.29M503.56 1466.52v7.29M255.18 1342.33h-7.29M627.75 1466.52v7.29M255.18 1280.24h-7.29M751.94 1466.52v7.29M255.18 1218.14h-7.29M876.13 1466.52v7.29M255.18 1156.05h-7.29M1000.3 1466.52v7.29M255.18 1093.95h-7.29" stroke="#000" stroke-width="2.08" fill="none"/>
<rect x="255.18" y="1093.95" width="745.14" height="372.57" fill="none" stroke="#000" stroke-width="1.667"/>
<rect x="1061.57" y="452.7" width="41.57" height="25.04" fill="#f7fbff"/><rect x="1061.57" y="428.26" width="41.57" height="25.04" fill="#e3eef9"/><rect x="1061.57" y="403.83" width="41.57" height="25.04" fill="#d0e1f2"/><rect x="1061.57" y="379.39" width="41.57" height="25.04" fill="#b7d4ea"/><rect x="1061.57" y="354.95" width="41.57" height="25.04" fill="#94c4df"/><rect x="1061.57" y="330.52" width="41.57" height="25.04" fill="#6caed6"/><rect x="1061.57" y="306.08" width="41.57" height="25.04" fill="#4a98c9"/><rect x="1061.57" y="281.64" width="41.57" height="25.04" fill="#2f7fbc"/><rect x="1061.57" y="257.21" width="41.57" height="25.04" fill="#1764ab"/><rect x="1061.57" y="232.77" width="41.57" height="25.04" fill="#084b93"/><rect x="1061.57" y="208.33" width="41.57" height="25.04" fill="#08306b"/>
<path d="M1061.57 208.94L1082.35 195.19L1103.13 208.94Z" fill="#08306b"/><path d="M1061.57 477.13L1082.35 490.88L1103.13 477.13Z" fill="#f7fbff"/><path d="M1061.57 208.63L1082.35 195.19L1103.13 208.63L1103.13 477.44L1082.35 490.88L1061.57 477.44Z" fill="none" stroke="#000" stroke-width="1.667" stroke-linejoin="miter"/>
<rect x="1061.57" y="922.78" width="41.57" height="25.04" fill="#f7fbff"/><rect x="1061.57" y="898.35" width="41.57" height="25.04" fill="#e3eef9"/><rect x="1061.57" y="873.91" width="41.57" height="25.04" fill="#d0e1f2"/><rect x="1061.57" y="849.47" width="41.57" height="25.04" fill="#b7d4ea"/><rect x="1061.57" y="825.04" width="41.57" height="25.04" fill="#94c4df"/><rect x="1061.57" y="800.6" width="41.57" height="25.04" fill="#6caed6"/><rect x="1061.57" y="776.17" width="41.57" height="25.04" fill="#4a98c9"/><rect x="1061.57" y="751.73" width="41.57" height="25.04" fill="#2f7fbc"/><rect x="1061.57" y="727.29" width="41.57" height="25.04" fill="#1764ab"/><rect x="1061.57" y="702.86" width="41.57" height="25.04" fill="#084b93"/><rect x="1061.57" y="678.42" width="41.57" height="25.04" fill="#08306b"/>
<path d="M1061.57 679.02L1082.35 665.28L1103.13 679.02Z" fill="#08306b"/><path d="M1061.57 947.22L1082.35 960.96L1103.13 947.22Z" fill="#f7fbff"/><path d="M1061.57 678.72L1082.35 665.28L1103.13 678.72L1103.13 947.52L1082.35 960.96L1061.57 947.52Z" fill="none" stroke="#000" stroke-width="1.667" stroke-linejoin="miter"/>
<rect x="1061.57" y="1396.63" width="41.57" height="21.28" fill="#67001f"/><rect x="1061.57" y="1375.95" width="41.57" height="21.28" fill="#a51429"/><rect x="1061.57" y="1355.27" width="41.57" height="21.28" fill="#c94741"/><rect x="1061.57" y="1334.6" width="41.57" height="21.28" fill="#e48066"/><rect x="1061.57" y="1313.92" width="41.57" height="21.28" fill="#f7b799"/><rect x="1061.57" y="1293.24" width="41.57" height="21.28" fill="#fcdfcf"/><rect x="1061.57" y="1272.57" width="41.57" height="21.28" fill="#f7f6f6"/><rect x="1061.57" y="1251.89" width="41.57" height="21.28" fill="#d8e9f1"/><rect x="1061.57" y="1231.21" width="41.57" height="21.28" fill="#a7d0e4"/><rect x="1061.57" y="1210.54" width="41.57" height="21.28" fill="#6bacd1"/><rect x="1061.57" y="1189.86" width="41.57" height="21.28" fill="#3885bc"/><rect x="1061.57" y="1169.18" width="41.57" height="21.28" fill="#1d5fa2"/><rect x="1061.57" y="1148.51" width="41.57" height="21.28" fill="#053061"/>
<path d="M1061.57 1149.11L1082.35 1135.37L1103.13 1149.11Z" fill="#053061"/><path d="M1061.57 1417.31L1082.35 1431.05L1103.13 1417.31Z" fill="#67001f"/><path d="M1061.57 1148.81L1082.35 1135.37L1103.13 1148.81L1103.13 1417.61L1082.35 1431.05L1061.57 1417.61Z" fill="none" stroke="#000" stroke-width="1.667" stroke-linejoin="miter"/>
<text x="240.55" y="554.93" font-size="17.17" textLength="29.25" lengthAdjust="spacingAndGlyphs">0°E</text>
<text x="359.49" y="554.93" font-size="17.17" textLength="39.75" lengthAdjust="spacingAndGlyphs">60°E</text>
<text x="478.31" y="554.93" font-size="17.17" textLength="50.5" lengthAdjust="spacingAndGlyphs">120°E</text>
<text x="607.75" y="554.93" font-size="17.17" textLength="40" lengthAdjust="spacingAndGlyphs">180°</text>
<text x="723.62" y="554.93" font-size="17.17" textLength="56.62" lengthAdjust="spacingAndGlyphs">120°W</text>
<text x="853.19" y="554.93" font-size="17.17" textLength="45.88" lengthAdjust="spacingAndGlyphs">60°W</text>
<text x="982.61" y="554.93" font-size="17.17" textLength="35.38" lengthAdjust="spacingAndGlyphs">0°W</text>
<text x="200.72" y="533.35" font-size="17.17" textLength="39.88" lengthAdjust="spacingAndGlyphs">90°S</text>
<text x="200.72" y="471.26" font-size="17.17" textLength="39.88" lengthAdjust="spacingAndGlyphs">60°S</text>
<text x="200.59" y="409.16" font-size="17.17" textLength="40" lengthAdjust="spacingAndGlyphs">30°S</text>
<text x="221.72" y="347.07" font-size="17.17" textLength="18.88" lengthAdjust="spacingAndGlyphs">0°</text>
<text x="198.59" y="284.97" font-size="17.17" textLength="42" lengthAdjust="spacingAndGlyphs">30°N</text>
<text x="198.72" y="222.88" font-size="17.17" textLength="41.88" lengthAdjust="spacingAndGlyphs">60°N</text>
<text x="198.72" y="160.78" font-size="17.17" textLength="41.88" lengthAdjust="spacingAndGlyphs">90°N</text>
<text x="255.18" y="141.28" font-size="20.39" textLength="276.25" lengthAdjust="spacingAndGlyphs">OXID_SCAV_TEND_3x (2-11)</text>
<text x="981.44" y="141.28" font-size="20.39" textLength="18.88" lengthAdjust="spacingAndGlyphs">%</text>
<text x="1125.51" y="460.5" font-size="19.31" textLength="29.69" lengthAdjust="spacingAndGlyphs">5.0</text>
<text x="1113.67" y="436.06" font-size="19.31" textLength="41.54" lengthAdjust="spacingAndGlyphs">15.0</text>
<text x="1113.67" y="411.63" font-size="19.31" textLength="41.54" lengthAdjust="spacingAndGlyphs">25.0</text>
<text x="1113.67" y="387.19" font-size="19.31" textLength="41.54" lengthAdjust="spacingAndGlyphs">35.0</text>
<text x="1113.55" y="362.75" font-size="19.31" textLength="41.66" lengthAdjust="spacingAndGlyphs">45.0</text>
<text x="1113.67" y="338.32" font-size="19.31" textLength="41.54" lengthAdjust="spacingAndGlyphs">55.0</text>
<text x="1113.67" y="313.88" font-size="19.31" textLength="41.54" lengthAdjust="spacingAndGlyphs">65.0</text>
<text x="1113.67" y="289.44" font-size="19.31" textLength="41.54" lengthAdjust="spacingAndGlyphs">75.0</text>
<text x="1113.67" y="265.01" font-size="19.31" textLength="41.54" lengthAdjust="spacingAndGlyphs">85.0</text>
<text x="1113.67" y="240.57" font-size="19.31" textLength="41.54" lengthAdjust="spacingAndGlyphs">95.0</text>
<text x="240.55" y="1025.02" font-size="17.17" textLength="29.25" lengthAdjust="spacingAndGlyphs">0°E</text>
<text x="359.49" y="1025.02" font-size="17.17" textLength="39.75" lengthAdjust="spacingAndGlyphs">60°E</text>
<text x="478.31" y="1025.02" font-size="17.17" textLength="50.5" lengthAdjust="spacingAndGlyphs">120°E</text>
<text x="607.75" y="1025.02" font-size="17.17" textLength="40" lengthAdjust="spacingAndGlyphs">180°</text>
<text x="723.62" y="1025.02" font-size="17.17" textLength="56.62" lengthAdjust="spacingAndGlyphs">120°W</text>
<text x="853.19" y="1025.02" font-size="17.17" textLength="45.88" lengthAdjust="spacingAndGlyphs">60°W</text>
<text x="982.61" y="1025.02" font-size="17.17" textLength="35.38" lengthAdjust="spacingAndGlyphs">0°W</text>
<text x="200.72" y="1003.44" font-size="17.17" textLength="39.88" lengthAdjust="spacingAndGlyphs">90°S</text>
<text x="200.72" y="941.34" font-size="17.17" textLength="39.88" lengthAdjust="spacingAndGlyphs">60°S</text>
<text x="200.59" y="879.24" font-size="17.17" textLength="40" lengthAdjust="spacingAndGlyphs">30°S</text>
<text x="221.72" y="817.15" font-size="17.17" textLength="18.88" lengthAdjust="spacingAndGlyphs">0°</text>
<text x="198.59" y="755.06" font-size="17.17" textLength="42" lengthAdjust="spacingAndGlyphs">30°N</text>
<text x="198.72" y="692.96" font-size="17.17" textLength="41.88" lengthAdjust="spacingAndGlyphs">60°N</text>
<text x="198.72" y="630.86" font-size="17.17" textLength="41.88" lengthAdjust="spacingAndGlyphs">90°N</text>
<text x="255.18" y="611.36" font-size="20.39" textLength="167.12" lengthAdjust="spacingAndGlyphs">MODIS Simulator</text>
<text x="981.44" y="611.36" font-size="20.39" textLength="18.88" lengthAdjust="spacingAndGlyphs">%</text>
<text x="1125.51" y="930.58" font-size="19.31" textLength="29.69" lengthAdjust="spacingAndGlyphs">5.0</text>
<text x="1113.67" y="906.15" font-size="19.31" textLength="41.54" lengthAdjust="spacingAndGlyphs">15.0</text>
<text x="1113.67" y="881.71" font-size="19.31" textLength="41.54" lengthAdjust="spacingAndGlyphs">25.0</text>
<text x="1113.67" y="857.27" font-size="19.31" textLength="41.54" lengthAdjust="spacingAndGlyphs">35.0</text>
<text x="1113.55" y="832.84" font-size="19.31" textLength="41.66" lengthAdjust="spacingAndGlyphs">45.0</text>
<text x="1113.67" y="808.4" font-size="19.31" textLength="41.54" lengthAdjust="spacingAndGlyphs">55.0</text>
<text x="1113.67" y="783.97" font-size="19.31" textLength="41.54" lengthAdjust="spacingAndGlyphs">65.0</text>
<text x="1113.67" y="759.53" font-size="19.31" textLength="41.54" lengthAdjust="spacingAndGlyphs">75.0</text>
<text x="1113.67" y="735.09" font-size="19.31" textLength="41.54" lengthAdjust="spacingAndGlyphs">85.0</text>
<text x="1113.67" y="710.66" font-size="19.31" textLength="41.54" lengthAdjust="spacingAndGlyphs">95.0</text>
<text x="240.55" y="1495.1" font-size="17.17" textLength="29.25" lengthAdjust="spacingAndGlyphs">0°E</text>
<text x="359.49" y="1495.1" font-size="17.17" textLength="39.75" lengthAdjust="spacingAndGlyphs">60°E</text>
<text x="478.31" y="1495.1" font-size="17.17" textLength="50.5" lengthAdjust="spacingAndGlyphs">120°E</text>
<text x="607.75" y="1495.1" font-size="17.17" textLength="40" lengthAdjust="spacingAndGlyphs">180°</text>
<text x="723.62" y="1495.1" font-size="17.17" textLength="56.62" lengthAdjust="spacingAndGlyphs">120°W</text>
<text x="853.19" y="1495.1" font-size="17.17" textLength="45.88" lengthAdjust="spacingAndGlyphs">60°W</text>
<text x="982.61" y="1495.1" font-size="17.17" textLength="35.38" lengthAdjust="spacingAndGlyphs">0°W</text>
<text x="200.72" y="1473.52" font-size="17.17" textLength="39.88" lengthAdjust="spacingAndGlyphs">90°S</text>
<text x="200.72" y="1411.42" font-size="17.17" textLength="39.88" lengthAdjust="spacingAndGlyphs">60°S</text>
<text x="200.59" y="1349.33" font-size="17.17" textLength="40" lengthAdjust="spacingAndGlyphs">30°S</text>
<text x="221.72" y="1287.24" font-size="17.17" textLength="18.88" lengthAdjust="spacingAndGlyphs">0°</text>
<text x="198.59" y="1225.14" font-size="17.17" textLength="42" lengthAdjust="spacingAndGlyphs">30°N</text>
<text x="198.72" y="1163.04" font-size="17.17" textLength="41.88" lengthAdjust="spacingAndGlyphs">60°N</text>
<text x="198.72" y="1100.95" font-size="17.17" textLength="41.88" lengthAdjust="spacingAndGlyphs">90°N</text>
<text x="506.56" y="1081.45" font-size="24.68" textLength="242.38" lengthAdjust="spacingAndGlyphs">Model - Observation</text>
<text x="981.44" y="1081.45" font-size="20.39" textLength="18.88" lengthAdjust="spacingAndGlyphs">%</text>
<text x="1107.09" y="1404.43" font-size="19.31" textLength="48.12" lengthAdjust="spacingAndGlyphs">-30.0</text>
<text x="1107.09" y="1383.75" font-size="19.31" textLength="48.12" lengthAdjust="spacingAndGlyphs">-25.0</text>
<text x="1107.09" y="1363.07" font-size="19.31" textLength="48.12" lengthAdjust="spacingAndGlyphs">-20.0</text>
<text x="1107.09" y="1342.4" font-size="19.31" textLength="48.12" lengthAdjust="spacingAndGlyphs">-15.0</text>
<text x="1107.09" y="1321.72" font-size="19.31" textLength="48.12" lengthAdjust="spacingAndGlyphs">-10.0</text>
<text x="1118.92" y="1301.04" font-size="19.31" textLength="36.29" lengthAdjust="spacingAndGlyphs">-5.0</text>
<text x="1125.51" y="1280.37" font-size="19.31" textLength="29.69" lengthAdjust="spacingAndGlyphs">5.0</text>
<text x="1113.67" y="1259.69" font-size="19.31" textLength="41.54" lengthAdjust="spacingAndGlyphs">10.0</text>
<text x="1113.67" y="1239.01" font-size="19.31" textLength="41.54" lengthAdjust="spacingAndGlyphs">15.0</text>
<text x="1113.67" y="1218.34" font-size="19.31" textLength="41.54" lengthAdjust="spacingAndGlyphs">20.0</text>
<text x="1113.67" y="1197.66" font-size="19.31" textLength="41.54" lengthAdjust="spacingAndGlyphs">25.0</text>
<text x="1113.67" y="1176.98" font-size="19.31" textLength="41.54" lengthAdjust="spacingAndGlyphs">30.0</text>
<text x="304.19" y="94" font-size="38.62" textLength="666.62" lengthAdjust="spacingAndGlyphs">CLDTOT_TAU9.4_MODIS ANN global</text>
<text x="1061.56" y="134.69" font-size="20.39" textLength="40.62" lengthAdjust="spacingAndGlyphs">Max</text>
<text x="1061.56" y="156.69" font-size="20.39" textLength="53.38" lengthAdjust="spacingAndGlyphs">Mean</text>
<text x="1061.56" y="178.69" font-size="20.39" textLength="34.75" lengthAdjust="spacingAndGlyphs">Min</text>
<text x="1132.56" y="134.69" font-size="20.39" textLength="56.5" lengthAdjust="spacingAndGlyphs">74.08</text>
<text x="1132.56" y="156.69" font-size="20.39" textLength="56.5" lengthAdjust="spacingAndGlyphs">25.05</text>
<text x="1145.69" y="178.69" font-size="20.39" textLength="43.38" lengthAdjust="spacingAndGlyphs">0.00</text>
<text x="1061.56" y="604.78" font-size="20.39" textLength="40.62" lengthAdjust="spacingAndGlyphs">Max</text>
<text x="1061.56" y="626.78" font-size="20.39" textLength="53.38" lengthAdjust="spacingAndGlyphs">Mean</text>
<text x="1061.56" y="648.78" font-size="20.39" textLength="34.75" lengthAdjust="spacingAndGlyphs">Min</text>
<text x="1132.56" y="604.78" font-size="20.39" textLength="56.5" lengthAdjust="spacingAndGlyphs">66.04</text>
<text x="1132.32" y="626.78" font-size="20.39" textLength="56.75" lengthAdjust="spacingAndGlyphs">23.52</text>
<text x="1145.19" y="648.78" font-size="20.39" textLength="43.88" lengthAdjust="spacingAndGlyphs">0.56</text>
<text x="1061.56" y="1074.86" font-size="20.39" textLength="40.62" lengthAdjust="spacingAndGlyphs">Max</text>
<text x="1061.56" y="1096.86" font-size="20.39" textLength="53.38" lengthAdjust="spacingAndGlyphs">Mean</text>
<text x="1061.56" y="1118.86" font-size="20.39" textLength="34.75" lengthAdjust="spacingAndGlyphs">Min</text>
<text x="1132.32" y="1074.86" font-size="20.39" textLength="56.75" lengthAdjust="spacingAndGlyphs">35.76</text>
<text x="1145.06" y="1096.86" font-size="20.39" textLength="44" lengthAdjust="spacingAndGlyphs">1.53</text>
<text x="1125.19" y="1118.86" font-size="20.39" textLength="63.88" lengthAdjust="spacingAndGlyphs">-41.58</text>
<text x="1061.56" y="1461.84" font-size="20.39" textLength="55.38" lengthAdjust="spacingAndGlyphs">RMSE</text>
<text x="1061.56" y="1483.84" font-size="20.39" textLength="56.62" lengthAdjust="spacingAndGlyphs">CORR</text>
<text x="1145.06" y="1461.84" font-size="20.39" textLength="44" lengthAdjust="spacingAndGlyphs">6.97</text>
<text x="1145.56" y="1483.84" font-size="20.39" textLength="43.5" lengthAdjust="spacingAndGlyphs">0.90</text>
</svg>
</body></html>
